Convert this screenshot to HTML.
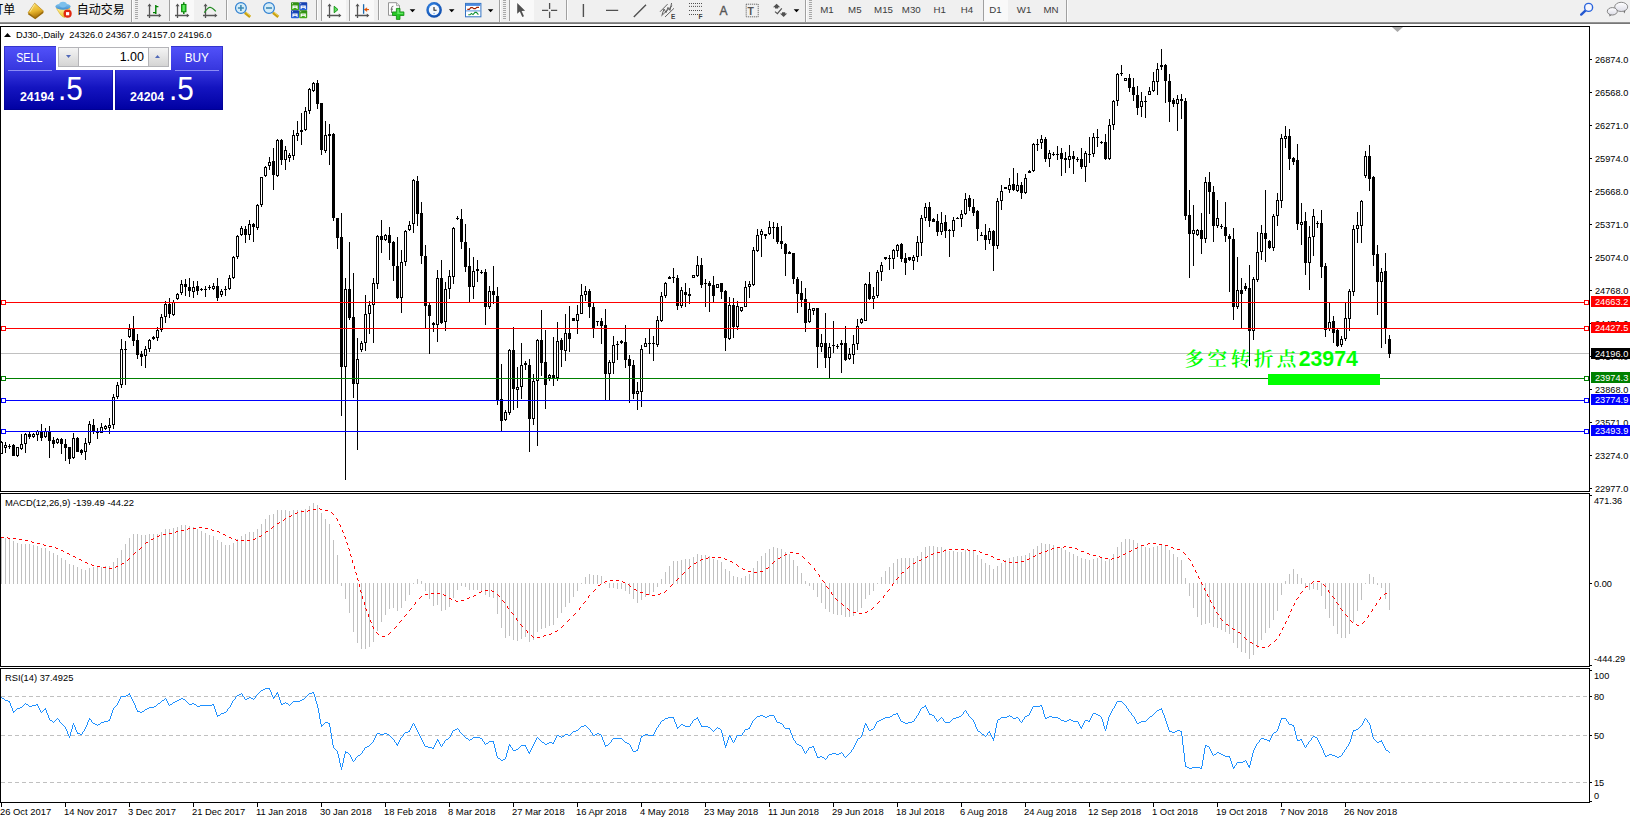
<!DOCTYPE html>
<html><head><meta charset="utf-8"><title>DJ30-,Daily</title>
<style>
html,body{margin:0;padding:0;background:#fff}
body{width:1630px;height:822px;overflow:hidden;position:relative;font-family:"Liberation Sans","Noto Sans CJK SC",sans-serif}
#tb{position:absolute;left:0;top:0;width:1630px;height:22px;background:#f0f0f0}
#tbl{position:absolute;left:0;top:22px;width:1630px;height:2px;background:linear-gradient(#a0a0a0,#696969)}
svg#ch{position:absolute;left:0;top:0}
svg#ch text{font-family:"Liberation Sans","Noto Sans CJK SC",sans-serif}
.tp div,.tp svg{position:absolute}
.bl{background:linear-gradient(#5252fa 0%,#3838e0 35%,#1414c0 65%,#0000a2 100%);box-shadow:inset 0 0 0 1px rgba(0,0,120,.35)}
.spin{left:56px;top:46px;width:115px;height:24px;background:#fff}
.btn{top:47px;width:21px;height:20px;background:linear-gradient(#f4f4f4,#d4d4d4);border:1px solid #b4b4b8;box-sizing:border-box}
.inp{left:79px;top:47px;width:69px;height:20px;border-top:1px solid #b4b4b8;border-bottom:1px solid #b4b4b8;box-sizing:border-box;text-align:right;padding-right:4px;font-size:12.5px;line-height:18px;color:#000}
.ul{top:70px;height:1px;background:#8c8cf6}
.sb{top:50px;height:16px;text-align:center;color:#fff;font-size:12.5px;line-height:16px}
.pr{top:90px;color:#fff;font-weight:bold;font-size:12.3px;line-height:14px}
.big{top:70px;color:#fff;font-size:33px;line-height:38px;transform:scaleX(.9);transform-origin:0 0}
</style></head>
<body>
<div id="tb"></div><div id="tbl"></div>
<svg id="tbs" width="1630" height="24" viewBox="0 0 1630 24" style="position:absolute;left:0;top:0"><defs><linearGradient id="gold" x1="0" y1="0" x2="0.3" y2="1"><stop offset="0" stop-color="#ffe268"/><stop offset="0.6" stop-color="#e8b830"/><stop offset="1" stop-color="#b07808"/></linearGradient><linearGradient id="hat" x1="0" y1="0" x2="0" y2="1"><stop offset="0" stop-color="#8ccaf0"/><stop offset="1" stop-color="#3c8cd0"/></linearGradient><linearGradient id="ylw" x1="0" y1="0" x2="0" y2="1"><stop offset="0" stop-color="#fff0a0"/><stop offset="1" stop-color="#e8c020"/></linearGradient><linearGradient id="cg" x1="0" y1="0" x2="1" y2="0"><stop offset="0" stop-color="#18c018"/><stop offset="0.5" stop-color="#70f070"/><stop offset="1" stop-color="#18c018"/></linearGradient><radialGradient id="clk" cx="0.4" cy="0.35" r="0.7"><stop offset="0" stop-color="#3a90f0"/><stop offset="1" stop-color="#0c48a8"/></radialGradient><linearGradient id="gt" x1="0" y1="0" x2="0" y2="1"><stop offset="0" stop-color="#2c8a10"/><stop offset="1" stop-color="#48b020"/></linearGradient><linearGradient id="bt" x1="0" y1="0" x2="0" y2="1"><stop offset="0" stop-color="#1038a8"/><stop offset="1" stop-color="#2c68e0"/></linearGradient><linearGradient id="bub" x1="0" y1="0" x2="0" y2="1"><stop offset="0" stop-color="#ffffff"/><stop offset="1" stop-color="#dcdce6"/></linearGradient></defs><rect x="170" y="0" width="24" height="21" fill="#f9f9f9"/><rect x="322" y="0" width="24" height="21" fill="#f9f9f9"/><rect x="350" y="0" width="24" height="21" fill="#f9f9f9"/><rect x="510" y="0" width="24" height="21" fill="#f9f9f9"/><rect x="984" y="0" width="24" height="21" fill="#f9f9f9"/><rect x="131" y="0" width="1" height="22" fill="#a0a0a0"/><rect x="132" y="0" width="1" height="22" fill="#fcfcfc"/><rect x="499" y="0" width="1" height="22" fill="#a0a0a0"/><rect x="500" y="0" width="1" height="22" fill="#fcfcfc"/><rect x="805" y="0" width="1" height="22" fill="#a0a0a0"/><rect x="806" y="0" width="1" height="22" fill="#fcfcfc"/><rect x="1066" y="0" width="1" height="22" fill="#a0a0a0"/><rect x="1067" y="0" width="1" height="22" fill="#fcfcfc"/><rect x="226" y="0" width="1" height="20" fill="#a0a0a0"/><rect x="227" y="0" width="1" height="20" fill="#fcfcfc"/><rect x="316" y="0" width="1" height="20" fill="#a0a0a0"/><rect x="317" y="0" width="1" height="20" fill="#fcfcfc"/><rect x="378" y="0" width="1" height="20" fill="#a0a0a0"/><rect x="379" y="0" width="1" height="20" fill="#fcfcfc"/><rect x="566" y="0" width="1" height="20" fill="#a0a0a0"/><rect x="567" y="0" width="1" height="20" fill="#fcfcfc"/><rect x="169" y="0" width="1" height="21" fill="#a0a0a0"/><rect x="321" y="0" width="1" height="21" fill="#a0a0a0"/><rect x="349" y="0" width="1" height="21" fill="#a0a0a0"/><rect x="509" y="0" width="1" height="21" fill="#a0a0a0"/><rect x="983" y="0" width="1" height="21" fill="#a0a0a0"/><rect x="135" y="0" width="3" height="1" fill="#a8a8a8"/><rect x="135" y="2" width="3" height="1" fill="#a8a8a8"/><rect x="135" y="4" width="3" height="1" fill="#a8a8a8"/><rect x="135" y="6" width="3" height="1" fill="#a8a8a8"/><rect x="135" y="8" width="3" height="1" fill="#a8a8a8"/><rect x="135" y="10" width="3" height="1" fill="#a8a8a8"/><rect x="135" y="12" width="3" height="1" fill="#a8a8a8"/><rect x="135" y="14" width="3" height="1" fill="#a8a8a8"/><rect x="135" y="16" width="3" height="1" fill="#a8a8a8"/><rect x="135" y="18" width="3" height="1" fill="#a8a8a8"/><rect x="503" y="0" width="3" height="1" fill="#a8a8a8"/><rect x="503" y="2" width="3" height="1" fill="#a8a8a8"/><rect x="503" y="4" width="3" height="1" fill="#a8a8a8"/><rect x="503" y="6" width="3" height="1" fill="#a8a8a8"/><rect x="503" y="8" width="3" height="1" fill="#a8a8a8"/><rect x="503" y="10" width="3" height="1" fill="#a8a8a8"/><rect x="503" y="12" width="3" height="1" fill="#a8a8a8"/><rect x="503" y="14" width="3" height="1" fill="#a8a8a8"/><rect x="503" y="16" width="3" height="1" fill="#a8a8a8"/><rect x="503" y="18" width="3" height="1" fill="#a8a8a8"/><rect x="809" y="0" width="3" height="1" fill="#a8a8a8"/><rect x="809" y="2" width="3" height="1" fill="#a8a8a8"/><rect x="809" y="4" width="3" height="1" fill="#a8a8a8"/><rect x="809" y="6" width="3" height="1" fill="#a8a8a8"/><rect x="809" y="8" width="3" height="1" fill="#a8a8a8"/><rect x="809" y="10" width="3" height="1" fill="#a8a8a8"/><rect x="809" y="12" width="3" height="1" fill="#a8a8a8"/><rect x="809" y="14" width="3" height="1" fill="#a8a8a8"/><rect x="809" y="16" width="3" height="1" fill="#a8a8a8"/><rect x="809" y="18" width="3" height="1" fill="#a8a8a8"/><text x="-8.7" y="13.5" font-size="12" fill="#000" style="font-family:'Liberation Sans','Noto Sans CJK SC',sans-serif">订单</text><text x="76.7" y="13.5" font-size="12" fill="#000" style="font-family:'Liberation Sans','Noto Sans CJK SC',sans-serif">自动交易</text><path d="M34.7 3.2L43.6 11.2L35.2 17.8L28 12.8z" fill="url(#gold)" stroke="#b88410" stroke-width="0.7"/><path d="M28.4 13.6L35.2 18.4L43.2 12.2" fill="none" stroke="#9a6a08" stroke-width="1.5"/><path d="M34.6 4.2L30 11.8" stroke="#fff4b0" stroke-width="1" opacity=".8" fill="none"/><path d="M56.5 8.5L70 8.5L64.5 17.5Q62 17 60 14z" fill="url(#ylw)" stroke="#d8b020" stroke-width="0.6"/><ellipse cx="63" cy="6.6" rx="7.6" ry="3.2" fill="url(#hat)"/><ellipse cx="63" cy="4.6" rx="3.8" ry="2.8" fill="#7cc0ec"/><circle cx="67.6" cy="13.7" r="4.1" fill="#e02810"/><rect x="66" y="12.1" width="3.2" height="3.2" fill="#fff"/><path d="M149.5 5V18M147 15.5H160" stroke="#555" stroke-width="1.3" fill="none"/><path d="M149.5 3.6l-2 2.6h4zM161.4 15.5l-2.6 -2v4z" fill="#555"/><path d="M155.8 5V14M155.8 6.6H158.4M153 12.6H155.8" stroke="#008000" stroke-width="1.4" fill="none"/><path d="M177.5 5V18M175 15.5H188" stroke="#555" stroke-width="1.3" fill="none"/><path d="M177.5 3.6l-2 2.6h4zM189.4 15.5l-2.6 -2v4z" fill="#555"/><path d="M183.8 2.2V14" stroke="#008000" stroke-width="1.4"/><rect x="181.6" y="4.4" width="4.4" height="7.4" fill="url(#cg)" stroke="#008000" stroke-width="0.9"/><path d="M205.5 5V18M203 15.5H216" stroke="#555" stroke-width="1.3" fill="none"/><path d="M205.5 3.6l-2 2.6h4zM217.4 15.5l-2.6 -2v4z" fill="#555"/><path d="M204.3 12.6Q208 7 210.2 7.3T215.8 11.3" stroke="#208a20" stroke-width="1.2" fill="none"/><path d="M244.9 12.6L250.20000000000002 16.8" stroke="#c8a010" stroke-width="2.8" stroke-linecap="butt"/><path d="M245.5 12L250.5 16" stroke="#f0d860" stroke-width="0.9"/><circle cx="240.9" cy="8" r="5.4" fill="#d4ecf8" stroke="#2e7fd0" stroke-width="1.2"/><path d="M237.9 8H243.9M240.9 5V11" stroke="#3e8ab4" stroke-width="1.6" fill="none"/><path d="M273 12.6L278.3 16.8" stroke="#c8a010" stroke-width="2.8" stroke-linecap="butt"/><path d="M273.6 12L278.6 16" stroke="#f0d860" stroke-width="0.9"/><circle cx="269" cy="8" r="5.4" fill="#d4ecf8" stroke="#2e7fd0" stroke-width="1.2"/><path d="M266 8H272" stroke="#3e8ab4" stroke-width="1.6" fill="none"/><rect x="291" y="2.2" width="8" height="8" rx="0.8" fill="url(#gt)"/><path d="M292.4 5.6h5.2v3.4h-1v-1h-3.2v1h-1z" fill="#fff"/><rect x="292" y="3.2" width="1" height="1" fill="#fff" opacity=".8"/><rect x="293.6" y="6.5" width="2.8" height="0.8" fill="url(#gt)" opacity=".55"/><rect x="299.2" y="2.2" width="8" height="8" rx="0.8" fill="url(#bt)"/><path d="M300.59999999999997 5.6h5.2v3.4h-1v-1h-3.2v1h-1z" fill="#fff"/><rect x="300.2" y="3.2" width="1" height="1" fill="#fff" opacity=".8"/><rect x="301.8" y="6.5" width="2.8" height="0.8" fill="url(#bt)" opacity=".55"/><rect x="291" y="10.2" width="8" height="8" rx="0.8" fill="url(#bt)"/><path d="M292.4 13.6h5.2v3.4h-1v-1h-3.2v1h-1z" fill="#fff"/><rect x="292" y="11.2" width="1" height="1" fill="#fff" opacity=".8"/><rect x="293.6" y="14.5" width="2.8" height="0.8" fill="url(#bt)" opacity=".55"/><rect x="299.2" y="10.2" width="8" height="8" rx="0.8" fill="url(#gt)"/><path d="M300.59999999999997 13.6h5.2v3.4h-1v-1h-3.2v1h-1z" fill="#fff"/><rect x="300.2" y="11.2" width="1" height="1" fill="#fff" opacity=".8"/><rect x="301.8" y="14.5" width="2.8" height="0.8" fill="url(#gt)" opacity=".55"/><path d="M329.5 5V18M327 15.5H340" stroke="#555" stroke-width="1.3" fill="none"/><path d="M329.5 3.6l-2 2.6h4zM341.4 15.5l-2.6 -2v4z" fill="#555"/><path d="M334.2 6.2V12.8L338 9.6z" fill="#60e060" stroke="#109010" stroke-width="0.9"/><path d="M357.5 5V18M355 15.5H368" stroke="#555" stroke-width="1.3" fill="none"/><path d="M357.5 3.6l-2 2.6h4zM369.4 15.5l-2.6 -2v4z" fill="#555"/><path d="M363.6 4.2V13.8" stroke="#1a6ab0" stroke-width="1.3"/><path d="M364.6 9.6H369" stroke="#e05000" stroke-width="1.1"/><path d="M364.3 9.6L367 7.8L366.4 9.6L367 11.4z" fill="#e05000" stroke="#e05000" stroke-width="0.5"/><path d="M388.5 2.7H396.5L399.5 5.7V15.3H388.5z" fill="#fdfdfd" stroke="#8a8a8a" stroke-width="0.9"/><path d="M396.5 2.7V5.7H399.5" fill="#e8e8e8" stroke="#8a8a8a" stroke-width="0.7"/><path d="M393.4 6.2Q391.6 6 391.6 8V13M390.6 9.2H393" stroke="#666" stroke-width="0.9" fill="none"/><path d="M396.4 8.4h3.6v3.5h3.9v3.6h-3.9v3.9h-3.6v-3.9h-3.9v-3.6h3.9z" fill="#28c828" stroke="#0c8a0c" stroke-width="0.8"/><path d="M397.2 9.2h2v3.5h3.9v1.2h-3.9v0h-2z" fill="#7cf07c" opacity=".7"/><path d="M409.7 9.2h5.6l-2.8 3z" fill="#000"/><circle cx="434.1" cy="9.9" r="7.8" fill="url(#clk)"/><circle cx="434.1" cy="9.9" r="5.3" fill="#f4f8fc"/><path d="M434 7V10.3H436.6" stroke="#222" stroke-width="1.1" fill="none"/><circle cx="434.1" cy="13.4" r="0.7" fill="#60a0f0"/><path d="M448.9 9.2h5.6l-2.8 3z" fill="#000"/><rect x="465.5" y="3.4" width="15.4" height="13.4" fill="#fff" stroke="#3474c4" stroke-width="1"/><rect x="466" y="3.9" width="14.4" height="2" fill="#4a8ae0"/><rect x="466" y="10.4" width="14.4" height="1" fill="#5a94dc"/><path d="M467.3 9.4L469.3 9.4L470.8 7.6L472.4 7.6L473.8 8.6L475.4 8.6L476.8 7.4L479 7.4" stroke="#a02000" stroke-width="1.1" fill="none"/><path d="M468.3 14.8L470 14.8L471.4 13.4L473 14.6L475 12.4L476.4 12.4L478.4 14.6" stroke="#109030" stroke-width="1.1" fill="none"/><path d="M487.8 9.2h5.6l-2.8 3z" fill="#000"/><path d="M517.2 2.9V13.8L519.8 11.5L522.3 17L524 16.3L521.6 11.1L525.1 10.8z" fill="#505050"/><path d="M549.6 3.1V9M549.6 11.8V18M542 10.4H548.2M551 10.4H557.2" stroke="#505050" stroke-width="1.3"/><path d="M583.4 4.1V17M606 10.4H618.2M633.8 17L646 4.8" stroke="#505050" stroke-width="1.4"/><path d="M660 11.8L667.6 4.1M661.3 16L672.2 5.6M665 17L674 8.3" stroke="#505050" stroke-width="0.9"/><path d="M662 14.8L664 9L666 12.6L668 7.4L670 10.4L671.6 3" stroke="#505050" stroke-width="0.9" fill="none"/><text x="671" y="18.8" font-size="6.4" font-weight="bold" fill="#404040" style="font-family:'Liberation Sans',sans-serif">E</text><path d="M689 3.5H702" stroke="#505050" stroke-width="1" stroke-dasharray="1 1"/><path d="M689 6.4H702" stroke="#505050" stroke-width="1" stroke-dasharray="1 1"/><path d="M689 10.5H702" stroke="#505050" stroke-width="1" stroke-dasharray="1 1"/><path d="M689 14.5H698" stroke="#505050" stroke-width="1" stroke-dasharray="1 1"/><text x="698.6" y="18.9" font-size="6.6" font-weight="bold" fill="#404040" style="font-family:'Liberation Sans',sans-serif">F</text><text x="719.6" y="15.1" font-size="12" fill="#555" stroke="#555" stroke-width="0.35" style="font-family:'Liberation Sans',sans-serif">A</text><rect x="746.2" y="4.2" width="12" height="12.6" fill="none" stroke="#505050" stroke-width="1" stroke-dasharray="1 1"/><text x="747.6" y="14.7" font-size="10.4" font-weight="bold" fill="#555" style="font-family:'Liberation Sans',sans-serif">T</text><path d="M776.6 3.8L780.2 7.2H778.2V8.6H775V7.2H773z" fill="#505050"/><path d="M783.6 17L787.2 13.6H785.2V12.2H782V13.6H780z" fill="#505050"/><path d="M775 11.6L777.4 13.6L781.8 8.4" stroke="#505050" stroke-width="1.2" fill="none"/><path d="M793.7 9.2h5.6l-2.8 3z" fill="#000"/><text x="827" y="13.3" font-size="9.7" text-anchor="middle" fill="#3c3c3c" style="font-family:'Liberation Sans',sans-serif">M1</text><text x="854.8" y="13.3" font-size="9.7" text-anchor="middle" fill="#3c3c3c" style="font-family:'Liberation Sans',sans-serif">M5</text><text x="883.5" y="13.3" font-size="9.7" text-anchor="middle" fill="#3c3c3c" style="font-family:'Liberation Sans',sans-serif">M15</text><text x="911.3" y="13.3" font-size="9.7" text-anchor="middle" fill="#3c3c3c" style="font-family:'Liberation Sans',sans-serif">M30</text><text x="939.7" y="13.3" font-size="9.7" text-anchor="middle" fill="#3c3c3c" style="font-family:'Liberation Sans',sans-serif">H1</text><text x="967" y="13.3" font-size="9.7" text-anchor="middle" fill="#3c3c3c" style="font-family:'Liberation Sans',sans-serif">H4</text><text x="995.5" y="13.3" font-size="9.7" text-anchor="middle" fill="#3c3c3c" style="font-family:'Liberation Sans',sans-serif">D1</text><text x="1024" y="13.3" font-size="9.7" text-anchor="middle" fill="#3c3c3c" style="font-family:'Liberation Sans',sans-serif">W1</text><text x="1051" y="13.3" font-size="9.7" text-anchor="middle" fill="#3c3c3c" style="font-family:'Liberation Sans',sans-serif">MN</text><path d="M1585.4 10.6L1581.2 14.6" stroke="#2458d0" stroke-width="2.4" stroke-linecap="round"/><circle cx="1588.6" cy="7.4" r="4" fill="#f6f6fc" stroke="#2a64dc" stroke-width="1.4"/><path d="M1623 10.6L1624.4 13.4L1625.6 10.2z" fill="#666"/><ellipse cx="1621.2" cy="6.9" rx="6.5" ry="4.6" fill="url(#bub)" stroke="#8a8a8a" stroke-width="1"/><path d="M1609.2 14L1609.6 16.6L1612 14.6z" fill="#666"/><ellipse cx="1612.3" cy="11.3" rx="5" ry="3.7" fill="url(#bub)" stroke="#828282" stroke-width="1"/></svg>
<svg id="ch" width="1630" height="822" viewBox="0 0 1630 822" shape-rendering="crispEdges">
<path d="M0 26h1590v1h-1590zM0 491h1590v1h-1590zM0 26h1v466h-1zM1589 26h1v466h-1zM0 493h1590v1h-1590zM0 666h1590v1h-1590zM0 493h1v174h-1zM1589 493h1v174h-1zM0 668h1590v1h-1590zM0 802h1590v1h-1590zM0 668h1v135h-1zM1589 668h1v135h-1zM1590 59h2v1h-2zM1590 92h2v1h-2zM1590 125h2v1h-2zM1590 158h2v1h-2zM1590 191h2v1h-2zM1590 224h2v1h-2zM1590 257h2v1h-2zM1590 290h2v1h-2zM1590 323h2v1h-2zM1590 356h2v1h-2zM1590 389h2v1h-2zM1590 422h2v1h-2zM1590 455h2v1h-2zM1590 488h2v1h-2zM1590 495h2v1h-2zM1590 583h2v1h-2zM1590 665h2v1h-2zM1590 670h2v1h-2zM1590 696h2v1h-2zM1590 735h2v1h-2zM1590 782h2v1h-2zM1590 801h2v1h-2zM1 803h1v4h-1zM65 803h1v4h-1zM129 803h1v4h-1zM193 803h1v4h-1zM257 803h1v4h-1zM321 803h1v4h-1zM385 803h1v4h-1zM449 803h1v4h-1zM513 803h1v4h-1zM577 803h1v4h-1zM641 803h1v4h-1zM705 803h1v4h-1zM769 803h1v4h-1zM833 803h1v4h-1zM897 803h1v4h-1zM961 803h1v4h-1zM1025 803h1v4h-1zM1089 803h1v4h-1zM1153 803h1v4h-1zM1217 803h1v4h-1zM1281 803h1v4h-1zM1345 803h1v4h-1z" fill="#000"/>
<rect x="1" y="353" width="1588" height="1" fill="#c0c0c0"/>
<text x="1184.5" y="366" fill="#00ff00" font-size="21.3" font-weight="bold" style="font-family:'Liberation Sans','Noto Serif CJK SC',serif"><tspan style="font-family:'Noto Serif CJK SC',serif;font-weight:600;font-size:19.6px" letter-spacing="3.5">多空转折点</tspan><tspan dx="-1.3">23974</tspan></text>
<path d="M1 441h1v13h-1zM1 442h2v12h-2zM5 442h1v11h-1zM4 445h3v3h-3zM9 444h1v5h-1zM8 446h3v1h-3zM13 444h1v12h-1zM12 445h3v11h-3zM17 447h1v10h-1zM16 447h3v9h-3zM21 434h1v16h-1zM20 444h3v5h-3zM25 433h1v20h-1zM24 434h3v10h-3zM29 432h1v7h-1zM28 434h3v3h-3zM33 433h1v5h-1zM32 434h3v3h-3zM37 430h1v11h-1zM36 431h3v4h-3zM41 424h1v17h-1zM40 432h3v6h-3zM45 428h1v10h-1zM44 431h3v6h-3zM49 426h1v32h-1zM48 431h3v10h-3zM53 437h1v11h-1zM52 440h3v4h-3zM57 438h1v6h-1zM56 439h3v4h-3zM61 438h1v16h-1zM60 439h3v5h-3zM65 439h1v22h-1zM64 444h3v4h-3zM69 447h1v17h-1zM68 447h3v12h-3zM73 433h1v26h-1zM72 438h3v20h-3zM77 437h1v15h-1zM76 438h3v14h-3zM81 449h1v6h-1zM80 450h3v3h-3zM85 438h1v22h-1zM84 443h3v9h-3zM89 421h1v24h-1zM88 424h3v19h-3zM93 419h1v15h-1zM92 425h3v6h-3zM97 428h1v11h-1zM96 431h3v2h-3zM101 423h1v10h-1zM100 427h3v6h-3zM105 425h1v5h-1zM104 426h3v3h-3zM109 418h1v16h-1zM108 425h3v3h-3zM113 394h1v35h-1zM112 397h3v28h-3zM117 382h1v17h-1zM116 385h3v12h-3zM121 339h1v49h-1zM120 349h3v36h-3zM125 341h1v44h-1zM124 349h3v1h-3zM129 324h1v14h-1zM128 329h3v8h-3zM133 316h1v30h-1zM132 329h3v12h-3zM137 334h1v25h-1zM136 340h3v15h-3zM141 351h1v15h-1zM140 354h3v3h-3zM145 346h1v22h-1zM144 349h3v7h-3zM149 339h1v13h-1zM148 340h3v9h-3zM153 336h1v4h-1zM152 337h3v2h-3zM157 327h1v14h-1zM156 330h3v8h-3zM161 314h1v18h-1zM160 317h3v13h-3zM165 301h1v22h-1zM164 304h3v13h-3zM169 298h1v20h-1zM168 304h3v10h-3zM173 300h1v16h-1zM172 302h3v13h-3zM177 293h1v7h-1zM176 294h3v5h-3zM181 280h1v15h-1zM180 284h3v9h-3zM185 279h1v17h-1zM184 284h3v3h-3zM189 278h1v19h-1zM188 287h3v4h-3zM193 281h1v17h-1zM192 287h3v5h-3zM197 281h1v14h-1zM196 286h3v5h-3zM201 288h1v3h-1zM200 289h3v1h-3zM205 286h1v11h-1zM204 289h3v1h-3zM209 285h1v5h-1zM208 287h3v1h-3zM213 283h1v7h-1zM212 286h3v3h-3zM217 278h1v23h-1zM216 286h3v12h-3zM221 289h1v8h-1zM220 291h3v4h-3zM225 286h1v10h-1zM224 289h3v1h-3zM229 275h1v15h-1zM228 278h3v11h-3zM233 256h1v23h-1zM232 257h3v21h-3zM237 235h1v24h-1zM236 236h3v21h-3zM241 226h1v10h-1zM240 228h3v7h-3zM245 226h1v17h-1zM244 229h3v6h-3zM249 220h1v20h-1zM248 224h3v11h-3zM253 223h1v19h-1zM252 224h3v3h-3zM257 204h1v26h-1zM256 205h3v23h-3zM261 177h1v30h-1zM260 177h3v28h-3zM265 166h1v11h-1zM264 167h3v9h-3zM269 157h1v13h-1zM268 162h3v4h-3zM273 148h1v42h-1zM272 161h3v14h-3zM277 139h1v38h-1zM276 140h3v36h-3zM281 139h1v26h-1zM280 140h3v20h-3zM285 146h1v24h-1zM284 150h3v10h-3zM289 153h1v9h-1zM288 155h3v3h-3zM293 130h1v30h-1zM292 135h3v21h-3zM297 121h1v20h-1zM296 133h3v3h-3zM301 113h1v32h-1zM300 130h3v2h-3zM305 107h1v24h-1zM304 111h3v19h-3zM309 88h1v26h-1zM308 89h3v22h-3zM313 82h1v10h-1zM312 83h3v8h-3zM317 80h1v29h-1zM316 83h3v21h-3zM321 103h1v52h-1zM320 103h3v47h-3zM325 121h1v32h-1zM324 135h3v16h-3zM329 124h1v41h-1zM328 134h3v2h-3zM333 133h1v88h-1zM332 134h3v84h-3zM337 218h1v31h-1zM336 218h3v20h-3zM341 213h1v203h-1zM340 237h3v130h-3zM345 278h1v202h-1zM344 289h3v78h-3zM349 242h1v78h-1zM348 289h3v29h-3zM353 273h1v125h-1zM352 317h3v67h-3zM357 338h1v112h-1zM356 359h3v25h-3zM361 341h1v11h-1zM360 343h3v7h-3zM365 295h1v56h-1zM364 314h3v29h-3zM369 301h1v33h-1zM368 305h3v9h-3zM373 278h1v65h-1zM372 283h3v22h-3zM377 235h1v54h-1zM376 236h3v48h-3zM381 220h1v33h-1zM380 236h3v4h-3zM385 234h1v7h-1zM384 235h3v5h-3zM389 227h1v33h-1zM388 235h3v8h-3zM393 241h1v40h-1zM392 242h3v24h-3zM397 237h1v62h-1zM396 266h3v32h-3zM401 250h1v63h-1zM400 262h3v36h-3zM405 230h1v36h-1zM404 231h3v31h-3zM409 221h1v10h-1zM408 225h3v5h-3zM413 179h1v54h-1zM412 180h3v44h-3zM417 176h1v50h-1zM416 181h3v33h-3zM421 202h1v62h-1zM420 213h3v43h-3zM425 245h1v83h-1zM424 256h3v50h-3zM429 303h1v51h-1zM428 305h3v11h-3zM433 322h1v10h-1zM432 323h3v2h-3zM437 270h1v72h-1zM436 278h3v47h-3zM441 260h1v64h-1zM440 278h3v45h-3zM445 282h1v49h-1zM444 289h3v33h-3zM449 270h1v29h-1zM448 276h3v13h-3zM453 227h1v57h-1zM452 228h3v49h-3zM457 216h1v4h-1zM456 218h3v1h-3zM461 209h1v40h-1zM460 219h3v23h-3zM465 224h1v48h-1zM464 242h3v25h-3zM469 248h1v55h-1zM468 266h3v21h-3zM473 257h1v42h-1zM472 271h3v16h-3zM477 260h1v22h-1zM476 269h3v2h-3zM481 270h1v4h-1zM480 272h3v1h-3zM485 269h1v56h-1zM484 272h3v35h-3zM489 286h1v23h-1zM488 291h3v16h-3zM493 266h1v38h-1zM492 291h3v4h-3zM497 287h1v118h-1zM496 296h3v104h-3zM501 364h1v67h-1zM500 399h3v22h-3zM505 410h1v11h-1zM504 412h3v8h-3zM509 349h1v66h-1zM508 350h3v63h-3zM513 327h1v83h-1zM512 350h3v39h-3zM517 367h1v41h-1zM516 387h3v3h-3zM521 343h1v56h-1zM520 365h3v22h-3zM525 361h1v9h-1zM524 363h3v2h-3zM529 359h1v93h-1zM528 365h3v54h-3zM533 374h1v51h-1zM532 381h3v38h-3zM537 339h1v107h-1zM536 340h3v41h-3zM541 310h1v66h-1zM540 340h3v23h-3zM545 330h1v79h-1zM544 362h3v23h-3zM549 374h1v7h-1zM548 375h3v3h-3zM553 337h1v49h-1zM552 375h3v3h-3zM557 322h1v59h-1zM556 341h3v37h-3zM561 338h1v29h-1zM560 340h3v10h-3zM565 314h1v47h-1zM564 333h3v18h-3zM569 306h1v46h-1zM568 333h3v6h-3zM573 318h1v3h-1zM572 318h3v3h-3zM577 305h1v29h-1zM576 314h3v7h-3zM581 284h1v30h-1zM580 295h3v19h-3zM585 286h1v15h-1zM584 291h3v4h-3zM589 289h1v29h-1zM588 291h3v16h-3zM593 303h1v35h-1zM592 307h3v21h-3zM597 321h1v5h-1zM596 321h3v1h-3zM601 318h1v26h-1zM600 321h3v5h-3zM605 309h1v91h-1zM604 325h3v49h-3zM609 360h1v40h-1zM608 362h3v12h-3zM613 336h1v38h-1zM612 345h3v18h-3zM617 341h1v19h-1zM616 344h3v1h-3zM621 340h1v4h-1zM620 341h3v2h-3zM625 325h1v43h-1zM624 342h3v18h-3zM629 355h1v48h-1zM628 359h3v7h-3zM633 360h1v39h-1zM632 365h3v29h-3zM637 382h1v28h-1zM636 391h3v3h-3zM641 345h1v62h-1zM640 349h3v43h-3zM645 338h1v9h-1zM644 343h3v4h-3zM649 329h1v25h-1zM648 343h3v1h-3zM653 336h1v25h-1zM652 343h3v1h-3zM657 316h1v31h-1zM656 320h3v25h-3zM661 292h1v30h-1zM660 296h3v25h-3zM665 282h1v16h-1zM664 283h3v13h-3zM669 276h1v3h-1zM668 277h3v2h-3zM673 268h1v15h-1zM672 277h3v1h-3zM677 275h1v35h-1zM676 278h3v28h-3zM681 287h1v21h-1zM680 290h3v16h-3zM685 283h1v24h-1zM684 292h3v3h-3zM689 288h1v16h-1zM688 294h3v2h-3zM693 275h1v3h-1zM692 275h3v3h-3zM697 256h1v21h-1zM696 265h3v11h-3zM701 258h1v30h-1zM700 265h3v20h-3zM705 279h1v28h-1zM704 283h3v1h-3zM709 281h1v31h-1zM708 283h3v3h-3zM713 276h1v26h-1zM712 285h3v11h-3zM717 284h1v4h-1zM716 284h3v4h-3zM721 283h1v16h-1zM720 283h3v9h-3zM725 290h1v61h-1zM724 291h3v47h-3zM729 297h1v43h-1zM728 305h3v34h-3zM733 298h1v40h-1zM732 305h3v22h-3zM737 301h1v29h-1zM736 306h3v21h-3zM741 307h1v5h-1zM740 307h3v4h-3zM745 281h1v26h-1zM744 287h3v20h-3zM749 281h1v17h-1zM748 284h3v3h-3zM753 247h1v39h-1zM752 250h3v35h-3zM757 229h1v23h-1zM756 235h3v16h-3zM761 229h1v28h-1zM760 231h3v4h-3zM765 234h1v5h-1zM764 234h3v2h-3zM769 221h1v14h-1zM768 227h3v7h-3zM773 222h1v17h-1zM772 227h3v1h-3zM777 223h1v21h-1zM776 227h3v15h-3zM781 226h1v23h-1zM780 241h3v3h-3zM785 243h1v33h-1zM784 244h3v10h-3zM789 251h1v3h-1zM788 252h3v2h-3zM793 253h1v31h-1zM792 253h3v26h-3zM797 277h1v36h-1zM796 279h3v15h-3zM801 281h1v26h-1zM800 293h3v7h-3zM805 288h1v44h-1zM804 299h3v24h-3zM809 303h1v20h-1zM808 309h3v13h-3zM813 308h1v7h-1zM812 308h3v3h-3zM817 308h1v60h-1zM816 308h3v39h-3zM821 334h1v18h-1zM820 343h3v4h-3zM825 313h1v55h-1zM824 343h3v15h-3zM829 343h1v35h-1zM828 347h3v11h-3zM833 321h1v32h-1zM832 345h3v1h-3zM837 344h1v5h-1zM836 346h3v1h-3zM841 340h1v33h-1zM840 343h3v2h-3zM845 326h1v35h-1zM844 343h3v17h-3zM849 348h1v12h-1zM848 354h3v5h-3zM853 335h1v29h-1zM852 344h3v11h-3zM857 319h1v31h-1zM856 326h3v18h-3zM861 318h1v6h-1zM860 319h3v4h-3zM865 283h1v38h-1zM864 284h3v37h-3zM869 272h1v28h-1zM868 284h3v15h-3zM873 287h1v22h-1zM872 296h3v3h-3zM877 270h1v28h-1zM876 272h3v24h-3zM881 262h1v19h-1zM880 265h3v7h-3zM885 257h1v3h-1zM884 257h3v2h-3zM889 255h1v15h-1zM888 258h3v1h-3zM893 249h1v20h-1zM892 250h3v9h-3zM897 244h1v13h-1zM896 245h3v6h-3zM901 243h1v19h-1zM900 244h3v15h-3zM905 253h1v22h-1zM904 258h3v5h-3zM909 257h1v4h-1zM908 257h3v3h-3zM913 255h1v15h-1zM912 257h3v4h-3zM917 236h1v26h-1zM916 242h3v15h-3zM921 215h1v41h-1zM920 218h3v25h-3zM925 203h1v18h-1zM924 207h3v11h-3zM929 202h1v25h-1zM928 207h3v14h-3zM933 218h1v4h-1zM932 219h3v3h-3zM937 214h1v22h-1zM936 221h3v11h-3zM941 212h1v23h-1zM940 223h3v9h-3zM945 215h1v23h-1zM944 222h3v9h-3zM949 229h1v28h-1zM948 230h3v1h-3zM953 217h1v20h-1zM952 220h3v11h-3zM957 217h1v2h-1zM956 218h3v1h-3zM961 210h1v17h-1zM960 214h3v5h-3zM965 193h1v22h-1zM964 199h3v15h-3zM969 195h1v16h-1zM968 198h3v9h-3zM973 199h1v17h-1zM972 207h3v6h-3zM977 210h1v31h-1zM976 211h3v18h-3zM981 232h1v3h-1zM980 235h3v1h-3zM985 224h1v26h-1zM984 235h3v5h-3zM989 228h1v16h-1zM988 231h3v9h-3zM993 230h1v41h-1zM992 231h3v15h-3zM997 198h1v51h-1zM996 201h3v45h-3zM1001 185h1v25h-1zM1000 191h3v10h-3zM1005 187h1v2h-1zM1004 187h3v2h-3zM1009 178h1v15h-1zM1008 185h3v5h-3zM1013 168h1v23h-1zM1012 184h3v6h-3zM1017 173h1v19h-1zM1016 185h3v6h-3zM1021 182h1v17h-1zM1020 185h3v8h-3zM1025 174h1v20h-1zM1024 178h3v15h-3zM1029 170h1v3h-1zM1028 171h3v2h-3zM1033 143h1v29h-1zM1032 144h3v27h-3zM1037 139h1v12h-1zM1036 144h3v1h-3zM1041 135h1v14h-1zM1040 139h3v4h-3zM1045 137h1v25h-1zM1044 139h3v20h-3zM1049 150h1v17h-1zM1048 153h3v6h-3zM1053 152h1v4h-1zM1052 154h3v1h-3zM1057 146h1v14h-1zM1056 154h3v1h-3zM1061 148h1v28h-1zM1060 153h3v6h-3zM1065 152h1v21h-1zM1064 158h3v2h-3zM1069 145h1v23h-1zM1068 156h3v4h-3zM1073 151h1v23h-1zM1072 156h3v3h-3zM1077 157h1v5h-1zM1076 159h3v1h-3zM1081 148h1v21h-1zM1080 159h3v8h-3zM1085 151h1v31h-1zM1084 153h3v14h-3zM1089 137h1v26h-1zM1088 154h3v1h-3zM1093 133h1v24h-1zM1092 137h3v17h-3zM1097 129h1v18h-1zM1096 137h3v1h-3zM1101 141h1v3h-1zM1100 142h3v1h-3zM1105 134h1v26h-1zM1104 142h3v17h-3zM1109 119h1v41h-1zM1108 125h3v34h-3zM1113 100h1v30h-1zM1112 101h3v24h-3zM1117 73h1v33h-1zM1116 74h3v27h-3zM1121 65h1v11h-1zM1120 73h3v1h-3zM1125 78h1v3h-1zM1124 78h3v3h-3zM1129 74h1v18h-1zM1128 78h3v10h-3zM1133 78h1v23h-1zM1132 87h3v8h-3zM1137 86h1v29h-1zM1136 95h3v13h-3zM1141 92h1v25h-1zM1140 101h3v6h-3zM1145 96h1v22h-1zM1144 101h3v1h-3zM1149 87h1v8h-1zM1148 91h3v4h-3zM1153 72h1v20h-1zM1152 81h3v10h-3zM1157 63h1v32h-1zM1156 69h3v13h-3zM1161 49h1v21h-1zM1160 65h3v2h-3zM1165 64h1v39h-1zM1164 65h3v16h-3zM1169 74h1v48h-1zM1168 81h3v21h-3zM1173 98h1v9h-1zM1172 100h3v4h-3zM1177 95h1v36h-1zM1176 99h3v5h-3zM1181 94h1v25h-1zM1180 99h3v2h-3zM1185 98h1v122h-1zM1184 101h3v115h-3zM1189 190h1v88h-1zM1188 215h3v19h-3zM1193 205h1v61h-1zM1192 230h3v4h-3zM1197 229h1v7h-1zM1196 230h3v5h-3zM1201 213h1v41h-1zM1200 230h3v9h-3zM1205 177h1v66h-1zM1204 182h3v57h-3zM1209 172h1v42h-1zM1208 182h3v10h-3zM1213 186h1v56h-1zM1212 192h3v34h-3zM1217 200h1v28h-1zM1216 218h3v8h-3zM1221 224h1v5h-1zM1220 226h3v1h-3zM1225 202h1v40h-1zM1224 227h3v9h-3zM1229 234h1v58h-1zM1228 236h3v3h-3zM1233 228h1v92h-1zM1232 239h3v68h-3zM1237 257h1v52h-1zM1236 290h3v17h-3zM1241 278h1v51h-1zM1240 290h3v4h-3zM1245 283h1v8h-1zM1244 286h3v3h-3zM1249 265h1v101h-1zM1248 288h3v43h-3zM1253 277h1v63h-1zM1252 279h3v52h-3zM1257 232h1v50h-1zM1256 252h3v28h-3zM1261 225h1v35h-1zM1260 233h3v19h-3zM1265 190h1v72h-1zM1264 233h3v6h-3zM1269 240h1v9h-1zM1268 241h3v7h-3zM1273 214h1v37h-1zM1272 216h3v32h-3zM1277 193h1v33h-1zM1276 200h3v16h-3zM1281 134h1v74h-1zM1280 138h3v63h-3zM1285 126h1v22h-1zM1284 136h3v3h-3zM1289 129h1v41h-1zM1288 136h3v23h-3zM1293 157h1v8h-1zM1292 158h3v4h-3zM1297 144h1v86h-1zM1296 160h3v64h-3zM1301 203h1v42h-1zM1300 222h3v3h-3zM1305 212h1v63h-1zM1304 221h3v42h-3zM1309 226h1v64h-1zM1308 237h3v26h-3zM1313 209h1v47h-1zM1312 216h3v21h-3zM1317 221h1v7h-1zM1316 223h3v1h-3zM1321 210h1v68h-1zM1320 223h3v44h-3zM1325 263h1v74h-1zM1324 266h3v64h-3zM1329 302h1v29h-1zM1328 322h3v7h-3zM1333 316h1v27h-1zM1332 321h3v12h-3zM1337 328h1v19h-1zM1336 330h3v16h-3zM1341 336h1v11h-1zM1340 339h3v6h-3zM1345 302h1v39h-1zM1344 318h3v21h-3zM1349 289h1v42h-1zM1348 291h3v28h-3zM1353 225h1v71h-1zM1352 229h3v63h-3zM1357 212h1v31h-1zM1356 225h3v4h-3zM1361 200h1v43h-1zM1360 201h3v25h-3zM1365 151h1v27h-1zM1364 156h3v20h-3zM1369 145h1v46h-1zM1368 156h3v23h-3zM1373 176h1v90h-1zM1372 177h3v78h-3zM1377 245h1v70h-1zM1376 254h3v28h-3zM1381 268h1v80h-1zM1380 272h3v10h-3zM1385 253h1v91h-1zM1384 271h3v58h-3zM1389 335h1v23h-1zM1388 339h3v15h-3z" fill="#000"/><path d="M1 443h1v10h-1zM5 446h1v1h-1zM17 448h1v7h-1zM21 445h1v3h-1zM25 435h1v8h-1zM33 435h1v1h-1zM37 432h1v2h-1zM45 432h1v4h-1zM57 440h1v2h-1zM73 439h1v18h-1zM85 444h1v7h-1zM89 425h1v17h-1zM101 428h1v4h-1zM105 427h1v1h-1zM109 426h1v1h-1zM113 398h1v26h-1zM117 386h1v10h-1zM121 350h1v34h-1zM129 330h1v6h-1zM145 350h1v5h-1zM149 341h1v7h-1zM157 331h1v6h-1zM161 318h1v11h-1zM165 305h1v11h-1zM173 303h1v11h-1zM177 295h1v3h-1zM181 285h1v7h-1zM193 288h1v3h-1zM213 287h1v1h-1zM221 292h1v2h-1zM229 279h1v9h-1zM233 258h1v19h-1zM237 237h1v19h-1zM241 229h1v5h-1zM249 225h1v9h-1zM257 206h1v21h-1zM261 178h1v26h-1zM265 168h1v7h-1zM269 163h1v2h-1zM277 141h1v34h-1zM285 151h1v8h-1zM289 156h1v1h-1zM293 136h1v19h-1zM297 134h1v1h-1zM305 112h1v17h-1zM309 90h1v20h-1zM313 84h1v6h-1zM325 136h1v14h-1zM345 290h1v76h-1zM357 360h1v23h-1zM361 344h1v5h-1zM365 315h1v27h-1zM369 306h1v7h-1zM373 284h1v20h-1zM377 237h1v46h-1zM385 236h1v3h-1zM401 263h1v34h-1zM405 232h1v29h-1zM409 226h1v3h-1zM413 181h1v42h-1zM437 279h1v45h-1zM445 290h1v31h-1zM449 277h1v11h-1zM453 229h1v47h-1zM473 272h1v14h-1zM489 292h1v14h-1zM505 413h1v6h-1zM509 351h1v61h-1zM517 388h1v1h-1zM521 366h1v20h-1zM533 382h1v36h-1zM537 341h1v39h-1zM549 376h1v1h-1zM557 342h1v35h-1zM565 334h1v16h-1zM577 315h1v5h-1zM581 296h1v17h-1zM585 292h1v2h-1zM609 363h1v10h-1zM613 346h1v16h-1zM637 392h1v1h-1zM641 350h1v41h-1zM645 344h1v2h-1zM657 321h1v23h-1zM661 297h1v23h-1zM665 284h1v11h-1zM681 291h1v14h-1zM693 276h1v1h-1zM697 266h1v9h-1zM717 285h1v2h-1zM729 306h1v32h-1zM737 307h1v19h-1zM741 308h1v2h-1zM745 288h1v18h-1zM749 285h1v1h-1zM753 251h1v33h-1zM757 236h1v14h-1zM761 232h1v2h-1zM769 228h1v5h-1zM809 310h1v11h-1zM813 309h1v1h-1zM821 344h1v2h-1zM829 348h1v9h-1zM849 355h1v3h-1zM853 345h1v9h-1zM857 327h1v16h-1zM861 320h1v2h-1zM865 285h1v35h-1zM873 297h1v1h-1zM877 273h1v22h-1zM881 266h1v5h-1zM893 251h1v7h-1zM897 246h1v4h-1zM913 258h1v2h-1zM917 243h1v13h-1zM921 219h1v23h-1zM925 208h1v9h-1zM941 224h1v7h-1zM953 221h1v9h-1zM961 215h1v3h-1zM965 200h1v13h-1zM989 232h1v7h-1zM997 202h1v43h-1zM1001 192h1v8h-1zM1009 186h1v3h-1zM1017 186h1v4h-1zM1025 179h1v13h-1zM1033 145h1v25h-1zM1041 140h1v2h-1zM1049 154h1v4h-1zM1069 157h1v2h-1zM1085 154h1v12h-1zM1093 138h1v15h-1zM1109 126h1v32h-1zM1113 102h1v22h-1zM1117 75h1v25h-1zM1125 79h1v1h-1zM1141 102h1v4h-1zM1149 92h1v2h-1zM1153 82h1v8h-1zM1157 70h1v11h-1zM1177 100h1v3h-1zM1193 231h1v2h-1zM1197 231h1v3h-1zM1205 183h1v55h-1zM1217 219h1v6h-1zM1237 291h1v15h-1zM1253 280h1v50h-1zM1257 253h1v26h-1zM1261 234h1v17h-1zM1273 217h1v30h-1zM1277 201h1v14h-1zM1281 139h1v61h-1zM1285 137h1v1h-1zM1301 223h1v1h-1zM1309 238h1v24h-1zM1313 217h1v19h-1zM1329 323h1v5h-1zM1341 340h1v4h-1zM1345 319h1v19h-1zM1349 292h1v26h-1zM1353 230h1v61h-1zM1357 226h1v2h-1zM1361 202h1v23h-1zM1365 157h1v18h-1zM1381 273h1v8h-1z" fill="#fff"/>
<text transform="translate(1595,62.6) scale(0.939,1)" fill="#000" font-size="9.8" text-anchor="start">26874.0</text><text transform="translate(1595,95.6) scale(0.939,1)" fill="#000" font-size="9.8" text-anchor="start">26568.0</text><text transform="translate(1595,128.6) scale(0.939,1)" fill="#000" font-size="9.8" text-anchor="start">26271.0</text><text transform="translate(1595,161.6) scale(0.939,1)" fill="#000" font-size="9.8" text-anchor="start">25974.0</text><text transform="translate(1595,194.6) scale(0.939,1)" fill="#000" font-size="9.8" text-anchor="start">25668.0</text><text transform="translate(1595,227.6) scale(0.939,1)" fill="#000" font-size="9.8" text-anchor="start">25371.0</text><text transform="translate(1595,260.6) scale(0.939,1)" fill="#000" font-size="9.8" text-anchor="start">25074.0</text><text transform="translate(1595,293.6) scale(0.939,1)" fill="#000" font-size="9.8" text-anchor="start">24768.0</text><text transform="translate(1595,326.6) scale(0.939,1)" fill="#000" font-size="9.8" text-anchor="start">24471.0</text><text transform="translate(1595,359.6) scale(0.939,1)" fill="#000" font-size="9.8" text-anchor="start">24174.0</text><text transform="translate(1595,392.6) scale(0.939,1)" fill="#000" font-size="9.8" text-anchor="start">23868.0</text><text transform="translate(1595,425.6) scale(0.939,1)" fill="#000" font-size="9.8" text-anchor="start">23571.0</text><text transform="translate(1595,458.6) scale(0.939,1)" fill="#000" font-size="9.8" text-anchor="start">23274.0</text><text transform="translate(1595,491.6) scale(0.939,1)" fill="#000" font-size="9.8" text-anchor="start">22977.0</text><text transform="translate(1594,504) scale(0.939,1)" fill="#000" font-size="9.8" text-anchor="start">471.36</text><text transform="translate(1594,587) scale(0.939,1)" fill="#000" font-size="9.8" text-anchor="start">0.00</text><text transform="translate(1594,662) scale(0.939,1)" fill="#000" font-size="9.8" text-anchor="start">-444.29</text><text transform="translate(1594,679) scale(0.939,1)" fill="#000" font-size="9.8" text-anchor="start">100</text><text transform="translate(1594,700) scale(0.939,1)" fill="#000" font-size="9.8" text-anchor="start">80</text><text transform="translate(1594,739) scale(0.939,1)" fill="#000" font-size="9.8" text-anchor="start">50</text><text transform="translate(1594,786) scale(0.939,1)" fill="#000" font-size="9.8" text-anchor="start">15</text><text transform="translate(1594,799) scale(0.939,1)" fill="#000" font-size="9.8" text-anchor="start">0</text><text transform="translate(0,815) scale(0.959,1)" fill="#000" font-size="9.8" text-anchor="start">26 Oct 2017</text><text transform="translate(64,815) scale(0.959,1)" fill="#000" font-size="9.8" text-anchor="start">14 Nov 2017</text><text transform="translate(128,815) scale(0.959,1)" fill="#000" font-size="9.8" text-anchor="start">3 Dec 2017</text><text transform="translate(192,815) scale(0.959,1)" fill="#000" font-size="9.8" text-anchor="start">21 Dec 2017</text><text transform="translate(256,815) scale(0.959,1)" fill="#000" font-size="9.8" text-anchor="start">11 Jan 2018</text><text transform="translate(320,815) scale(0.959,1)" fill="#000" font-size="9.8" text-anchor="start">30 Jan 2018</text><text transform="translate(384,815) scale(0.959,1)" fill="#000" font-size="9.8" text-anchor="start">18 Feb 2018</text><text transform="translate(448,815) scale(0.959,1)" fill="#000" font-size="9.8" text-anchor="start">8 Mar 2018</text><text transform="translate(512,815) scale(0.959,1)" fill="#000" font-size="9.8" text-anchor="start">27 Mar 2018</text><text transform="translate(576,815) scale(0.959,1)" fill="#000" font-size="9.8" text-anchor="start">16 Apr 2018</text><text transform="translate(640,815) scale(0.959,1)" fill="#000" font-size="9.8" text-anchor="start">4 May 2018</text><text transform="translate(704,815) scale(0.959,1)" fill="#000" font-size="9.8" text-anchor="start">23 May 2018</text><text transform="translate(768,815) scale(0.959,1)" fill="#000" font-size="9.8" text-anchor="start">11 Jun 2018</text><text transform="translate(832,815) scale(0.959,1)" fill="#000" font-size="9.8" text-anchor="start">29 Jun 2018</text><text transform="translate(896,815) scale(0.959,1)" fill="#000" font-size="9.8" text-anchor="start">18 Jul 2018</text><text transform="translate(960,815) scale(0.959,1)" fill="#000" font-size="9.8" text-anchor="start">6 Aug 2018</text><text transform="translate(1024,815) scale(0.959,1)" fill="#000" font-size="9.8" text-anchor="start">24 Aug 2018</text><text transform="translate(1088,815) scale(0.959,1)" fill="#000" font-size="9.8" text-anchor="start">12 Sep 2018</text><text transform="translate(1152,815) scale(0.959,1)" fill="#000" font-size="9.8" text-anchor="start">1 Oct 2018</text><text transform="translate(1216,815) scale(0.959,1)" fill="#000" font-size="9.8" text-anchor="start">19 Oct 2018</text><text transform="translate(1280,815) scale(0.959,1)" fill="#000" font-size="9.8" text-anchor="start">7 Nov 2018</text><text transform="translate(1344,815) scale(0.959,1)" fill="#000" font-size="9.8" text-anchor="start">26 Nov 2018</text><text transform="translate(16,38) scale(0.952,1)" fill="#000" font-size="9.8" text-anchor="start">DJ30-,Daily&#160;&#160;24326.0 24367.0 24157.0 24196.0</text><path d="M4 37h7l-3.5-4z" fill="#000" shape-rendering="auto"/><text transform="translate(5,505.5) scale(0.961,1)" fill="#000" font-size="9.8" text-anchor="start">MACD(12,26,9) -139.49 -44.22</text><text transform="translate(5,680.5) scale(0.952,1)" fill="#000" font-size="9.8" text-anchor="start">RSI(14) 37.4925</text>
<rect x="1" y="302" width="1588" height="1" fill="#ff0000"/><rect x="1.5" y="300.5" width="4" height="4" fill="#fff" stroke="#ff0000"  shape-rendering="crispEdges"/><rect x="1584.5" y="300.5" width="4" height="4" fill="#fff" stroke="#ff0000" shape-rendering="crispEdges"/><rect x="1591" y="296" width="39" height="11" fill="#ff0000"/><text transform="translate(1595,304.5) scale(0.939,1)" fill="#fff" font-size="9.8">24663.2</text><rect x="1" y="328" width="1588" height="1" fill="#ff0000"/><rect x="1.5" y="326.5" width="4" height="4" fill="#fff" stroke="#ff0000"  shape-rendering="crispEdges"/><rect x="1584.5" y="326.5" width="4" height="4" fill="#fff" stroke="#ff0000" shape-rendering="crispEdges"/><rect x="1591" y="322" width="39" height="11" fill="#ff0000"/><text transform="translate(1595,330.5) scale(0.939,1)" fill="#fff" font-size="9.8">24427.5</text><rect x="1" y="378" width="1588" height="1" fill="#008000"/><rect x="1.5" y="376.5" width="4" height="4" fill="#fff" stroke="#008000"  shape-rendering="crispEdges"/><rect x="1584.5" y="376.5" width="4" height="4" fill="#fff" stroke="#008000" shape-rendering="crispEdges"/><rect x="1591" y="372" width="39" height="11" fill="#008000"/><text transform="translate(1595,380.5) scale(0.939,1)" fill="#fff" font-size="9.8">23974.3</text><rect x="1" y="400" width="1588" height="1" fill="#0000ff"/><rect x="1.5" y="398.5" width="4" height="4" fill="#fff" stroke="#0000ff"  shape-rendering="crispEdges"/><rect x="1584.5" y="398.5" width="4" height="4" fill="#fff" stroke="#0000ff" shape-rendering="crispEdges"/><rect x="1591" y="394" width="39" height="11" fill="#0000ff"/><text transform="translate(1595,402.5) scale(0.939,1)" fill="#fff" font-size="9.8">23774.9</text><rect x="1" y="431" width="1588" height="1" fill="#0000ff"/><rect x="1.5" y="429.5" width="4" height="4" fill="#fff" stroke="#0000ff"  shape-rendering="crispEdges"/><rect x="1584.5" y="429.5" width="4" height="4" fill="#fff" stroke="#0000ff" shape-rendering="crispEdges"/><rect x="1591" y="425" width="39" height="11" fill="#0000ff"/><text transform="translate(1595,433.5) scale(0.939,1)" fill="#fff" font-size="9.8">23493.9</text><rect x="1591" y="348" width="39" height="11" fill="#000"/><text transform="translate(1595,356.5) scale(0.939,1)" fill="#fff" font-size="9.8">24196.0</text>
<rect x="1268" y="374" width="112" height="11" fill="#00ff00"/>
<path d="M1392 27h11l-5.5 5z" fill="#a8a8a8" shape-rendering="auto"/>
<path d="M1 537h1v47h-1zM5 538h1v46h-1zM9 539h1v45h-1zM13 541h1v43h-1zM17 543h1v41h-1zM21 544h1v40h-1zM25 544h1v40h-1zM29 544h1v40h-1zM33 545h1v39h-1zM37 546h1v38h-1zM41 548h1v36h-1zM45 548h1v36h-1zM49 551h1v33h-1zM53 553h1v31h-1zM57 555h1v29h-1zM61 558h1v26h-1zM65 560h1v24h-1zM69 564h1v20h-1zM73 565h1v19h-1zM77 567h1v17h-1zM81 569h1v15h-1zM85 570h1v14h-1zM89 568h1v16h-1zM93 567h1v17h-1zM97 567h1v17h-1zM101 567h1v17h-1zM105 566h1v18h-1zM109 566h1v18h-1zM113 562h1v22h-1zM117 558h1v26h-1zM121 550h1v34h-1zM125 544h1v40h-1zM129 538h1v46h-1zM133 534h1v50h-1zM137 534h1v50h-1zM141 535h1v49h-1zM145 535h1v49h-1zM149 534h1v50h-1zM153 534h1v50h-1zM157 534h1v50h-1zM161 532h1v52h-1zM165 529h1v55h-1zM169 529h1v55h-1zM173 528h1v56h-1zM177 527h1v57h-1zM181 525h1v59h-1zM185 525h1v59h-1zM189 526h1v58h-1zM193 527h1v57h-1zM197 529h1v55h-1zM201 531h1v53h-1zM205 533h1v51h-1zM209 535h1v49h-1zM213 536h1v48h-1zM217 540h1v44h-1zM221 542h1v42h-1zM225 545h1v39h-1zM229 545h1v39h-1zM233 543h1v41h-1zM237 539h1v45h-1zM241 536h1v48h-1zM245 534h1v50h-1zM249 532h1v52h-1zM253 532h1v52h-1zM257 529h1v55h-1zM261 524h1v60h-1zM265 519h1v65h-1zM269 515h1v69h-1zM273 514h1v70h-1zM277 510h1v74h-1zM281 510h1v74h-1zM285 510h1v74h-1zM289 511h1v73h-1zM293 510h1v74h-1zM297 510h1v74h-1zM301 510h1v74h-1zM305 509h1v75h-1zM309 506h1v78h-1zM313 503h1v81h-1zM317 505h1v79h-1zM321 513h1v71h-1zM325 519h1v65h-1zM329 524h1v60h-1zM333 540h1v44h-1zM337 555h1v29h-1zM341 583h1v3h-1zM345 583h1v16h-1zM349 583h1v30h-1zM353 583h1v49h-1zM357 583h1v60h-1zM361 583h1v66h-1zM365 583h1v66h-1zM369 583h1v64h-1zM373 583h1v59h-1zM377 583h1v48h-1zM381 583h1v39h-1zM385 583h1v32h-1zM389 583h1v26h-1zM393 583h1v25h-1zM397 583h1v28h-1zM401 583h1v25h-1zM405 583h1v18h-1zM409 583h1v12h-1zM413 583h1v1h-1zM417 579h1v5h-1zM421 581h1v3h-1zM425 583h1v8h-1zM429 583h1v16h-1zM433 583h1v23h-1zM437 583h1v22h-1zM441 583h1v28h-1zM445 583h1v27h-1zM449 583h1v24h-1zM453 583h1v15h-1zM457 583h1v7h-1zM461 583h1v3h-1zM465 583h1v4h-1zM469 583h1v7h-1zM473 583h1v7h-1zM477 583h1v7h-1zM481 583h1v8h-1zM485 583h1v12h-1zM489 583h1v14h-1zM493 583h1v15h-1zM497 583h1v31h-1zM501 583h1v45h-1zM505 583h1v55h-1zM509 583h1v53h-1zM513 583h1v57h-1zM517 583h1v58h-1zM521 583h1v56h-1zM525 583h1v54h-1zM529 583h1v59h-1zM533 583h1v57h-1zM537 583h1v49h-1zM541 583h1v46h-1zM545 583h1v45h-1zM549 583h1v43h-1zM553 583h1v42h-1zM557 583h1v35h-1zM561 583h1v30h-1zM565 583h1v24h-1zM569 583h1v20h-1zM573 583h1v14h-1zM577 583h1v8h-1zM581 583h1v1h-1zM585 577h1v7h-1zM589 574h1v10h-1zM593 575h1v9h-1zM597 575h1v9h-1zM601 576h1v8h-1zM605 583h1v1h-1zM609 583h1v5h-1zM613 583h1v5h-1zM617 583h1v6h-1zM621 583h1v6h-1zM625 583h1v8h-1zM629 583h1v11h-1zM633 583h1v16h-1zM637 583h1v20h-1zM641 583h1v17h-1zM645 583h1v14h-1zM649 583h1v12h-1zM653 583h1v9h-1zM657 583h1v4h-1zM661 579h1v5h-1zM665 572h1v12h-1zM669 566h1v18h-1zM673 561h1v23h-1zM677 561h1v23h-1zM681 560h1v24h-1zM685 559h1v25h-1zM689 559h1v25h-1zM693 557h1v27h-1zM697 554h1v30h-1zM701 555h1v29h-1zM705 555h1v29h-1zM709 556h1v28h-1zM713 559h1v25h-1zM717 560h1v24h-1zM721 562h1v22h-1zM725 569h1v15h-1zM729 571h1v13h-1zM733 576h1v8h-1zM737 577h1v7h-1zM741 578h1v6h-1zM745 576h1v8h-1zM749 574h1v10h-1zM753 568h1v16h-1zM757 561h1v23h-1zM761 556h1v28h-1zM765 553h1v31h-1zM769 549h1v35h-1zM773 547h1v37h-1zM777 548h1v36h-1zM781 549h1v35h-1zM785 552h1v32h-1zM789 554h1v30h-1zM793 560h1v24h-1zM797 566h1v18h-1zM801 573h1v11h-1zM805 581h1v3h-1zM809 583h1v3h-1zM813 583h1v7h-1zM817 583h1v14h-1zM821 583h1v20h-1zM825 583h1v26h-1zM829 583h1v29h-1zM833 583h1v31h-1zM837 583h1v32h-1zM841 583h1v32h-1zM845 583h1v34h-1zM849 583h1v34h-1zM853 583h1v33h-1zM857 583h1v29h-1zM861 583h1v25h-1zM865 583h1v16h-1zM869 583h1v12h-1zM873 583h1v8h-1zM877 583h1v1h-1zM881 577h1v7h-1zM885 571h1v13h-1zM889 567h1v17h-1zM893 563h1v21h-1zM897 559h1v25h-1zM901 558h1v26h-1zM905 558h1v26h-1zM909 558h1v26h-1zM913 558h1v26h-1zM917 556h1v28h-1zM921 552h1v32h-1zM925 547h1v37h-1zM929 546h1v38h-1zM933 546h1v38h-1zM937 547h1v37h-1zM941 547h1v37h-1zM945 549h1v35h-1zM949 551h1v33h-1zM953 551h1v33h-1zM957 552h1v32h-1zM961 552h1v32h-1zM965 550h1v34h-1zM969 550h1v34h-1zM973 551h1v33h-1zM977 555h1v29h-1zM981 559h1v25h-1zM985 563h1v21h-1zM989 565h1v19h-1zM993 569h1v15h-1zM997 566h1v18h-1zM1001 563h1v21h-1zM1005 560h1v24h-1zM1009 558h1v26h-1zM1013 557h1v27h-1zM1017 556h1v28h-1zM1021 556h1v28h-1zM1025 555h1v29h-1zM1029 553h1v31h-1zM1033 549h1v35h-1zM1037 546h1v38h-1zM1041 543h1v41h-1zM1045 544h1v40h-1zM1049 544h1v40h-1zM1053 545h1v39h-1zM1057 547h1v37h-1zM1061 548h1v36h-1zM1065 550h1v34h-1zM1069 552h1v32h-1zM1073 554h1v30h-1zM1077 556h1v28h-1zM1081 558h1v26h-1zM1085 559h1v25h-1zM1089 560h1v24h-1zM1093 559h1v25h-1zM1097 558h1v26h-1zM1101 558h1v26h-1zM1105 561h1v23h-1zM1109 559h1v25h-1zM1113 554h1v30h-1zM1117 547h1v37h-1zM1121 542h1v42h-1zM1125 539h1v45h-1zM1129 539h1v45h-1zM1133 540h1v44h-1zM1137 543h1v41h-1zM1141 545h1v39h-1zM1145 547h1v37h-1zM1149 548h1v36h-1zM1153 547h1v37h-1zM1157 546h1v38h-1zM1161 544h1v40h-1zM1165 546h1v38h-1zM1169 550h1v34h-1zM1173 554h1v30h-1zM1177 557h1v27h-1zM1181 560h1v24h-1zM1185 578h1v6h-1zM1189 583h1v13h-1zM1193 583h1v25h-1zM1197 583h1v34h-1zM1201 583h1v42h-1zM1205 583h1v41h-1zM1209 583h1v40h-1zM1213 583h1v44h-1zM1217 583h1v45h-1zM1221 583h1v47h-1zM1225 583h1v49h-1zM1229 583h1v51h-1zM1233 583h1v60h-1zM1237 583h1v65h-1zM1241 583h1v69h-1zM1245 583h1v70h-1zM1249 583h1v76h-1zM1253 583h1v72h-1zM1257 583h1v65h-1zM1261 583h1v57h-1zM1265 583h1v50h-1zM1269 583h1v45h-1zM1273 583h1v37h-1zM1277 583h1v28h-1zM1281 583h1v12h-1zM1285 581h1v3h-1zM1289 574h1v10h-1zM1293 569h1v15h-1zM1297 574h1v10h-1zM1301 578h1v6h-1zM1305 583h1v4h-1zM1309 583h1v7h-1zM1313 583h1v6h-1zM1317 583h1v7h-1zM1321 583h1v13h-1zM1325 583h1v26h-1zM1329 583h1v35h-1zM1333 583h1v43h-1zM1337 583h1v51h-1zM1341 583h1v55h-1zM1345 583h1v55h-1zM1349 583h1v51h-1zM1353 583h1v39h-1zM1357 583h1v28h-1zM1361 583h1v17h-1zM1365 583h1v1h-1zM1369 574h1v10h-1zM1373 577h1v7h-1zM1377 583h1v2h-1zM1381 583h1v5h-1zM1385 583h1v16h-1zM1389 583h1v27h-1z" fill="#c0c0c0"/>
<path d="M319 508h1v1h-1zM313 509h3v1h-3zM320 509h2v1h-2zM308 510h2v1h-2zM325 510h3v1h-3zM301 511h3v1h-3zM307 511h1v1h-1zM297 512h1v1h-1zM331 512h1v1h-1zM295 513h2v1h-2zM332 513h1v1h-1zM333 514h1v1h-1zM291 515h1v1h-1zM289 516h2v1h-2zM285 518h1v1h-1zM336 518h1v1h-1zM284 519h1v1h-1zM337 519h1v2h-1zM283 520h1v1h-1zM279 522h1v1h-1zM277 523h2v1h-2zM339 524h1v1h-1zM340 525h1v2h-1zM273 526h1v1h-1zM199 527h3v1h-3zM272 527h1v1h-1zM188 528h2v1h-2zM193 528h3v1h-3zM205 528h3v1h-3zM271 528h1v1h-1zM187 529h1v1h-1zM211 529h1v1h-1zM181 530h3v1h-3zM212 530h2v1h-2zM342 530h1v2h-1zM176 531h2v1h-2zM217 531h2v1h-2zM266 531h2v1h-2zM175 532h1v1h-1zM219 532h1v1h-1zM265 532h1v1h-1zM343 532h1v1h-1zM169 533h3v1h-3zM163 534h3v1h-3zM223 534h2v1h-2zM159 535h1v1h-1zM225 535h1v1h-1zM261 535h1v1h-1zM157 536h2v1h-2zM259 536h2v1h-2zM344 536h1v1h-1zM1 537h3v1h-3zM7 537h1v1h-1zM229 537h2v1h-2zM345 537h1v2h-1zM8 538h2v1h-2zM13 538h3v1h-3zM153 538h1v1h-1zM231 538h1v1h-1zM255 538h1v1h-1zM19 539h3v1h-3zM151 539h2v1h-2zM235 539h1v1h-1zM253 539h2v1h-2zM25 540h3v1h-3zM236 540h2v1h-2zM241 540h3v1h-3zM247 540h3v1h-3zM31 541h1v1h-1zM32 542h2v1h-2zM146 542h2v1h-2zM346 542h1v1h-1zM37 543h3v1h-3zM145 543h1v1h-1zM347 543h1v2h-1zM1148 543h2v1h-2zM1153 543h3v1h-3zM43 544h1v1h-1zM1147 544h1v1h-1zM1159 544h3v1h-3zM44 545h2v1h-2zM1141 545h3v1h-3zM1165 545h3v1h-3zM49 546h3v1h-3zM1064 546h2v1h-2zM55 547h1v1h-1zM141 547h1v1h-1zM1057 547h3v1h-3zM1063 547h1v1h-1zM1069 547h3v1h-3zM1137 547h1v1h-1zM1171 547h2v1h-2zM56 548h2v1h-2zM140 548h1v1h-1zM348 548h1v1h-1zM1052 548h2v1h-2zM1075 548h2v1h-2zM1135 548h2v1h-2zM1173 548h1v1h-1zM139 549h1v1h-1zM349 549h1v2h-1zM949 549h3v1h-3zM955 549h3v1h-3zM961 549h3v1h-3zM967 549h1v1h-1zM1051 549h1v1h-1zM1077 549h1v1h-1zM1177 549h3v1h-3zM61 550h2v1h-2zM944 550h2v1h-2zM968 550h2v1h-2zM973 550h3v1h-3zM1047 550h1v1h-1zM1131 550h1v1h-1zM63 551h1v1h-1zM943 551h1v1h-1zM979 551h1v1h-1zM1045 551h2v1h-2zM1081 551h3v1h-3zM1129 551h2v1h-2zM135 552h1v1h-1zM790 552h3v1h-3zM937 552h3v1h-3zM980 552h2v1h-2zM1041 552h1v1h-1zM1183 552h1v1h-1zM67 553h2v1h-2zM134 553h1v1h-1zM796 553h3v1h-3zM933 553h1v1h-1zM1039 553h2v1h-2zM1087 553h2v1h-2zM1125 553h1v1h-1zM1184 553h1v1h-1zM69 554h1v1h-1zM133 554h1v1h-1zM350 554h1v2h-1zM785 554h2v1h-2zM931 554h2v1h-2zM985 554h3v1h-3zM1089 554h1v1h-1zM1123 554h2v1h-2zM1185 554h1v1h-1zM784 555h1v1h-1zM1035 555h1v1h-1zM1093 555h3v1h-3zM73 556h2v1h-2zM351 556h1v1h-1zM802 556h1v1h-1zM927 556h1v1h-1zM991 556h2v1h-2zM1033 556h2v1h-2zM1099 556h1v1h-1zM1119 556h1v1h-1zM75 557h1v1h-1zM708 557h1v1h-1zM712 557h3v1h-3zM718 557h3v1h-3zM780 557h1v1h-1zM803 557h1v1h-1zM925 557h2v1h-2zM993 557h1v1h-1zM1100 557h2v1h-2zM1117 557h2v1h-2zM129 558h1v1h-1zM706 558h2v1h-2zM724 558h1v1h-1zM778 558h2v1h-2zM804 558h1v1h-1zM1029 558h1v1h-1zM1105 558h3v1h-3zM1112 558h2v1h-2zM1188 558h1v1h-1zM79 559h2v1h-2zM128 559h1v1h-1zM701 559h2v1h-2zM725 559h2v1h-2zM921 559h1v1h-1zM997 559h3v1h-3zM1027 559h2v1h-2zM1111 559h1v1h-1zM1189 559h1v1h-1zM81 560h1v1h-1zM127 560h1v1h-1zM352 560h1v3h-1zM700 560h1v1h-1zM919 560h2v1h-2zM1003 560h1v1h-1zM1190 560h1v1h-1zM730 561h2v1h-2zM774 561h1v1h-1zM1004 561h2v1h-2zM1021 561h3v1h-3zM85 562h2v1h-2zM696 562h1v1h-1zM732 562h1v1h-1zM773 562h1v1h-1zM808 562h1v1h-1zM915 562h1v1h-1zM1009 562h3v1h-3zM1015 562h3v1h-3zM87 563h1v1h-1zM122 563h2v1h-2zM694 563h2v1h-2zM772 563h1v1h-1zM809 563h1v1h-1zM913 563h2v1h-2zM91 564h1v1h-1zM121 564h1v1h-1zM736 564h1v1h-1zM810 564h1v1h-1zM1192 564h1v2h-1zM92 565h2v1h-2zM737 565h1v1h-1zM97 566h3v1h-3zM116 566h2v1h-2zM354 566h1v3h-1zM690 566h1v1h-1zM738 566h1v1h-1zM909 566h1v1h-1zM1193 566h1v1h-1zM103 567h3v1h-3zM115 567h1v1h-1zM689 567h1v1h-1zM768 567h1v1h-1zM908 567h1v1h-1zM109 568h3v1h-3zM688 568h1v1h-1zM742 568h1v1h-1zM766 568h2v1h-2zM814 568h1v2h-1zM907 568h1v1h-1zM743 569h2v1h-2zM815 570h1v1h-1zM1195 570h1v2h-1zM748 571h3v1h-3zM760 571h3v1h-3zM355 572h1v1h-1zM684 572h1v1h-1zM754 572h3v1h-3zM902 572h2v1h-2zM1196 572h1v1h-1zM356 573h1v2h-1zM683 573h1v1h-1zM901 573h1v1h-1zM682 574h1v1h-1zM818 574h1v1h-1zM819 575h1v2h-1zM1198 576h1v2h-1zM898 577h1v1h-1zM357 578h1v2h-1zM678 578h1v1h-1zM897 578h1v1h-1zM1199 578h1v1h-1zM677 579h1v1h-1zM896 579h1v1h-1zM358 580h1v1h-1zM610 580h3v1h-3zM616 580h3v1h-3zM676 580h1v1h-1zM822 580h1v1h-1zM605 581h2v1h-2zM622 581h1v1h-1zM823 581h1v1h-1zM1313 581h1v1h-1zM1317 581h3v1h-3zM604 582h1v1h-1zM623 582h2v1h-2zM824 582h1v1h-1zM1201 582h1v2h-1zM1312 582h1v1h-1zM893 583h1v1h-1zM1311 583h1v1h-1zM359 584h1v3h-1zM600 584h1v1h-1zM628 584h1v1h-1zM672 584h1v1h-1zM892 584h1v2h-1zM1202 584h1v1h-1zM1323 584h1v1h-1zM598 585h2v1h-2zM629 585h1v1h-1zM671 585h1v1h-1zM1324 585h1v1h-1zM630 586h1v1h-1zM670 586h1v1h-1zM826 586h1v1h-1zM1306 586h2v1h-2zM1325 586h1v1h-1zM827 587h1v1h-1zM1305 587h1v1h-1zM828 588h1v1h-1zM1204 588h1v2h-1zM595 589h1v1h-1zM634 589h2v1h-2zM889 589h1v1h-1zM360 590h1v2h-1zM485 590h3v1h-3zM491 590h1v1h-1zM594 590h1v1h-1zM636 590h1v1h-1zM666 590h1v1h-1zM888 590h1v1h-1zM1205 590h1v1h-1zM1328 590h1v2h-1zM481 591h1v1h-1zM492 591h2v1h-2zM593 591h1v1h-1zM665 591h1v1h-1zM887 591h1v1h-1zM1302 591h1v1h-1zM361 592h1v1h-1zM479 592h2v1h-2zM640 592h3v1h-3zM664 592h1v1h-1zM831 592h1v2h-1zM1301 592h1v1h-1zM1329 592h1v1h-1zM431 593h3v1h-3zM437 593h3v1h-3zM660 593h1v1h-1zM1300 593h1v1h-1zM1385 593h2v1h-2zM425 594h3v1h-3zM443 594h1v1h-1zM497 594h1v1h-1zM646 594h3v1h-3zM658 594h2v1h-2zM832 594h1v1h-1zM1207 594h1v2h-1zM1384 594h1v1h-1zM444 595h2v1h-2zM474 595h2v1h-2zM498 595h1v1h-1zM589 595h1v1h-1zM652 595h3v1h-3zM884 595h1v1h-1zM362 596h1v3h-1zM421 596h1v1h-1zM473 596h1v1h-1zM499 596h1v1h-1zM588 596h1v2h-1zM883 596h1v2h-1zM1208 596h1v1h-1zM1332 596h1v1h-1zM420 597h1v1h-1zM469 597h1v1h-1zM1298 597h1v1h-1zM1333 597h1v1h-1zM1380 597h1v2h-1zM419 598h1v1h-1zM449 598h2v1h-2zM467 598h2v1h-2zM835 598h1v1h-1zM1297 598h1v1h-1zM1334 598h1v1h-1zM451 599h1v1h-1zM836 599h1v1h-1zM1296 599h1v1h-1zM1379 599h1v1h-1zM455 600h1v1h-1zM461 600h3v1h-3zM502 600h1v1h-1zM837 600h1v1h-1zM1210 600h1v2h-1zM456 601h2v1h-2zM503 601h1v1h-1zM585 601h1v1h-1zM879 601h1v1h-1zM364 602h1v3h-1zM415 602h1v2h-1zM504 602h1v1h-1zM584 602h1v1h-1zM878 602h1v1h-1zM1211 602h1v1h-1zM1336 602h1v1h-1zM583 603h1v1h-1zM841 603h1v1h-1zM877 603h1v1h-1zM1294 603h1v2h-1zM1337 603h1v1h-1zM1376 603h1v2h-1zM414 604h1v1h-1zM842 604h1v1h-1zM1338 604h1v1h-1zM843 605h1v1h-1zM1293 605h1v1h-1zM1375 605h1v1h-1zM507 606h1v2h-1zM1213 606h1v1h-1zM580 607h1v1h-1zM873 607h1v1h-1zM1214 607h1v2h-1zM365 608h1v1h-1zM411 608h1v1h-1zM508 608h1v1h-1zM579 608h1v2h-1zM847 608h1v1h-1zM872 608h1v1h-1zM1340 608h1v1h-1zM366 609h1v2h-1zM410 609h1v1h-1zM848 609h1v1h-1zM871 609h1v1h-1zM1291 609h1v2h-1zM1341 609h1v1h-1zM1372 609h1v2h-1zM409 610h1v1h-1zM849 610h1v1h-1zM1342 610h1v1h-1zM867 611h1v1h-1zM1290 611h1v1h-1zM1371 611h1v1h-1zM511 612h1v1h-1zM853 612h3v1h-3zM865 612h2v1h-2zM1216 612h1v1h-1zM512 613h1v1h-1zM575 613h1v1h-1zM859 613h3v1h-3zM1217 613h1v1h-1zM368 614h1v3h-1zM406 614h1v1h-1zM513 614h1v1h-1zM574 614h1v1h-1zM1218 614h1v1h-1zM1345 614h1v1h-1zM405 615h1v1h-1zM573 615h1v1h-1zM1289 615h1v1h-1zM1346 615h1v1h-1zM1368 615h1v2h-1zM404 616h1v1h-1zM1288 616h1v2h-1zM1347 616h1v1h-1zM1367 617h1v1h-1zM516 618h1v2h-1zM1220 618h1v1h-1zM569 619h1v1h-1zM1221 619h1v1h-1zM370 620h1v2h-1zM401 620h1v1h-1zM517 620h1v1h-1zM568 620h1v1h-1zM1222 620h1v1h-1zM1350 620h1v1h-1zM400 621h1v1h-1zM567 621h1v1h-1zM1286 621h1v1h-1zM1351 621h1v1h-1zM1364 621h1v1h-1zM371 622h1v1h-1zM399 622h1v1h-1zM1285 622h1v2h-1zM1352 622h1v1h-1zM1363 622h1v1h-1zM1362 623h1v1h-1zM520 624h1v1h-1zM1226 624h2v1h-2zM1356 624h1v1h-1zM521 625h1v1h-1zM563 625h1v1h-1zM1228 625h1v1h-1zM1357 625h2v1h-2zM372 626h1v1h-1zM396 626h1v1h-1zM522 626h1v1h-1zM562 626h1v1h-1zM373 627h1v2h-1zM395 627h1v1h-1zM561 627h1v1h-1zM1283 627h1v1h-1zM394 628h1v1h-1zM1232 628h1v1h-1zM1282 628h1v2h-1zM1233 629h2v1h-2zM526 630h1v1h-1zM557 630h1v1h-1zM527 631h1v2h-1zM555 631h2v1h-2zM376 632h1v1h-1zM390 632h1v1h-1zM1238 632h2v1h-2zM377 633h1v1h-1zM389 633h1v1h-1zM551 633h1v1h-1zM1240 633h1v1h-1zM1280 633h1v1h-1zM378 634h1v1h-1zM388 634h1v1h-1zM549 634h2v1h-2zM1279 634h1v2h-1zM531 635h1v1h-1zM544 635h2v1h-2zM382 636h3v1h-3zM532 636h1v1h-1zM543 636h1v1h-1zM533 637h1v1h-1zM537 637h3v1h-3zM1244 637h1v1h-1zM1245 638h1v1h-1zM1246 639h1v1h-1zM1276 639h1v1h-1zM1275 640h1v1h-1zM1274 641h1v1h-1zM1250 642h2v1h-2zM1252 643h1v1h-1zM1270 644h1v1h-1zM1256 645h1v1h-1zM1269 645h1v1h-1zM1257 646h2v1h-2zM1268 646h1v1h-1zM1262 647h3v1h-3z" fill="#f00"/>
<line x1="1" x2="1589" y1="696.5" y2="696.5" stroke="#c0c0c0" stroke-dasharray="4 3"/><line x1="1" x2="1589" y1="735.5" y2="735.5" stroke="#c0c0c0" stroke-dasharray="4 3"/><line x1="1" x2="1589" y1="782.5" y2="782.5" stroke="#c0c0c0" stroke-dasharray="4 3"/>
<path d="M265 688h5v1h-5zM263 689h2v1h-2zM269 689h1v1h-1zM261 690h2v1h-2zM270 690h1v2h-1zM260 691h1v1h-1zM259 692h1v1h-1zM271 692h1v3h-1zM277 692h1v2h-1zM312 692h2v1h-2zM129 693h1v2h-1zM241 693h1v1h-1zM258 693h1v1h-1zM276 693h1v2h-1zM309 693h3v1h-3zM313 693h1v1h-1zM128 694h1v1h-1zM239 694h2v1h-2zM242 694h1v2h-1zM257 694h1v1h-1zM278 694h1v3h-1zM308 694h1v1h-1zM314 694h1v3h-1zM126 695h2v1h-2zM130 695h1v2h-1zM237 695h2v1h-2zM256 695h1v1h-1zM272 695h1v2h-1zM275 695h1v1h-1zM307 695h1v1h-1zM121 696h5v1h-5zM236 696h1v1h-1zM243 696h1v1h-1zM255 696h1v2h-1zM274 696h1v2h-1zM306 696h1v1h-1zM1 697h1v1h-1zM120 697h1v2h-1zM131 697h1v2h-1zM235 697h1v2h-1zM244 697h1v2h-1zM249 697h2v1h-2zM273 697h1v2h-1zM279 697h1v3h-1zM305 697h1v1h-1zM315 697h1v4h-1zM2 698h2v1h-2zM165 698h1v1h-1zM181 698h2v1h-2zM247 698h2v1h-2zM251 698h2v1h-2zM254 698h1v1h-1zM304 698h1v1h-1zM4 699h1v1h-1zM119 699h1v2h-1zM132 699h1v2h-1zM164 699h1v1h-1zM166 699h1v2h-1zM179 699h2v1h-2zM183 699h2v1h-2zM234 699h1v1h-1zM245 699h2v1h-2zM253 699h1v1h-1zM302 699h2v1h-2zM5 700h3v1h-3zM162 700h2v1h-2zM177 700h2v1h-2zM185 700h1v1h-1zM233 700h1v1h-1zM280 700h1v3h-1zM300 700h2v1h-2zM8 701h2v1h-2zM118 701h1v2h-1zM133 701h1v2h-1zM161 701h1v1h-1zM167 701h1v2h-1zM175 701h2v1h-2zM186 701h1v1h-1zM232 701h1v2h-1zM293 701h7v1h-7zM316 701h1v3h-1zM1117 701h5v1h-5zM9 702h1v1h-1zM160 702h1v1h-1zM173 702h2v1h-2zM187 702h1v1h-1zM285 702h1v1h-1zM292 702h1v1h-1zM1116 702h1v2h-1zM1122 702h1v1h-1zM10 703h1v3h-1zM25 703h1v1h-1zM117 703h1v2h-1zM134 703h1v2h-1zM158 703h2v1h-2zM168 703h1v2h-1zM172 703h1v1h-1zM188 703h1v1h-1zM192 703h2v1h-2zM231 703h1v2h-1zM281 703h1v2h-1zM283 703h2v1h-2zM286 703h2v1h-2zM291 703h1v1h-1zM1123 703h1v1h-1zM24 704h1v1h-1zM26 704h2v1h-2zM36 704h2v1h-2zM157 704h1v1h-1zM170 704h2v1h-2zM189 704h3v1h-3zM194 704h2v1h-2zM212 704h2v1h-2zM282 704h1v1h-1zM288 704h1v1h-1zM290 704h1v1h-1zM317 704h1v4h-1zM1115 704h1v2h-1zM1124 704h1v1h-1zM23 705h1v1h-1zM28 705h1v1h-1zM32 705h4v1h-4zM37 705h1v1h-1zM116 705h1v1h-1zM135 705h1v3h-1zM156 705h1v1h-1zM169 705h1v1h-1zM196 705h1v1h-1zM200 705h12v1h-12zM213 705h1v1h-1zM230 705h1v2h-1zM289 705h1v1h-1zM925 705h1v2h-1zM1040 705h2v1h-2zM1125 705h1v1h-1zM11 706h1v2h-1zM22 706h1v1h-1zM29 706h3v1h-3zM38 706h1v2h-1zM115 706h1v1h-1zM154 706h2v1h-2zM197 706h3v1h-3zM214 706h1v3h-1zM924 706h1v1h-1zM1033 706h7v1h-7zM1041 706h1v1h-1zM1114 706h1v2h-1zM1126 706h1v2h-1zM20 707h2v1h-2zM114 707h1v1h-1zM149 707h5v1h-5zM229 707h1v1h-1zM922 707h2v1h-2zM926 707h1v2h-1zM1032 707h1v2h-1zM1042 707h1v3h-1zM12 708h1v3h-1zM17 708h3v1h-3zM39 708h1v2h-1zM45 708h1v2h-1zM113 708h1v2h-1zM136 708h1v2h-1zM147 708h2v1h-2zM228 708h1v1h-1zM318 708h1v5h-1zM921 708h1v1h-1zM1113 708h1v1h-1zM1127 708h1v1h-1zM1161 708h1v2h-1zM16 709h1v1h-1zM44 709h1v1h-1zM145 709h2v1h-2zM215 709h1v3h-1zM227 709h1v2h-1zM920 709h1v2h-1zM927 709h1v2h-1zM1031 709h1v2h-1zM1112 709h1v2h-1zM1128 709h1v2h-1zM1159 709h2v1h-2zM15 710h1v1h-1zM40 710h1v2h-1zM43 710h1v1h-1zM46 710h1v3h-1zM112 710h1v3h-1zM137 710h1v2h-1zM144 710h1v1h-1zM965 710h1v1h-1zM1043 710h1v4h-1zM1157 710h2v1h-2zM1162 710h1v3h-1zM13 711h2v1h-2zM42 711h1v1h-1zM138 711h2v1h-2zM142 711h2v1h-2zM226 711h1v1h-1zM919 711h1v2h-1zM928 711h1v2h-1zM964 711h1v1h-1zM966 711h1v2h-1zM1030 711h1v2h-1zM1111 711h1v2h-1zM1129 711h1v1h-1zM1156 711h1v1h-1zM13 712h1v1h-1zM41 712h1v1h-1zM140 712h2v1h-2zM216 712h1v3h-1zM224 712h2v1h-2zM963 712h1v2h-1zM1130 712h1v1h-1zM1155 712h1v1h-1zM47 713h1v2h-1zM111 713h1v3h-1zM221 713h3v1h-3zM319 713h1v6h-1zM896 713h2v1h-2zM918 713h1v2h-1zM929 713h1v2h-1zM967 713h1v1h-1zM1029 713h1v2h-1zM1093 713h3v1h-3zM1110 713h1v2h-1zM1131 713h1v2h-1zM1154 713h1v1h-1zM1163 713h1v2h-1zM220 714h1v1h-1zM893 714h3v1h-3zM897 714h1v1h-1zM930 714h2v1h-2zM962 714h1v1h-1zM968 714h1v2h-1zM1044 714h1v3h-1zM1092 714h1v2h-1zM1096 714h2v1h-2zM1153 714h1v1h-1zM48 715h1v3h-1zM217 715h3v1h-3zM760 715h3v1h-3zM769 715h5v1h-5zM892 715h1v1h-1zM898 715h1v2h-1zM917 715h1v1h-1zM932 715h2v1h-2zM961 715h1v1h-1zM1009 715h1v1h-1zM1027 715h2v1h-2zM1098 715h2v1h-2zM1109 715h1v2h-1zM1132 715h1v1h-1zM1152 715h1v1h-1zM1164 715h1v3h-1zM110 716h1v3h-1zM217 716h1v1h-1zM757 716h3v1h-3zM763 716h2v1h-2zM767 716h2v1h-2zM774 716h1v2h-1zM890 716h2v1h-2zM916 716h1v2h-1zM934 716h1v2h-1zM959 716h2v1h-2zM969 716h1v1h-1zM1007 716h2v1h-2zM1010 716h2v1h-2zM1025 716h2v1h-2zM1049 716h3v1h-3zM1091 716h1v2h-1zM1100 716h1v1h-1zM1133 716h1v1h-1zM1150 716h2v1h-2zM668 717h6v1h-6zM697 717h1v2h-1zM756 717h1v1h-1zM765 717h2v1h-2zM885 717h5v1h-5zM899 717h1v2h-1zM941 717h1v1h-1zM956 717h3v1h-3zM970 717h1v1h-1zM1001 717h6v1h-6zM1012 717h1v1h-1zM1016 717h2v1h-2zM1024 717h1v2h-1zM1045 717h1v2h-1zM1047 717h2v1h-2zM1052 717h6v1h-6zM1101 717h1v2h-1zM1108 717h1v4h-1zM1134 717h1v2h-1zM1149 717h1v1h-1zM49 718h1v2h-1zM57 718h1v1h-1zM89 718h1v2h-1zM665 718h3v1h-3zM673 718h1v1h-1zM696 718h1v1h-1zM755 718h1v1h-1zM775 718h1v2h-1zM883 718h2v1h-2zM915 718h1v1h-1zM935 718h1v1h-1zM940 718h1v1h-1zM942 718h1v1h-1zM953 718h3v1h-3zM971 718h1v1h-1zM1000 718h1v1h-1zM1013 718h3v1h-3zM1018 718h1v1h-1zM1046 718h1v1h-1zM1058 718h2v1h-2zM1090 718h1v2h-1zM1148 718h1v1h-1zM1165 718h1v3h-1zM1281 718h5v1h-5zM1365 718h1v1h-1zM56 719h1v1h-1zM58 719h1v1h-1zM90 719h1v1h-1zM109 719h1v2h-1zM320 719h1v5h-1zM664 719h1v1h-1zM674 719h1v3h-1zM694 719h2v1h-2zM698 719h1v2h-1zM754 719h1v1h-1zM881 719h2v1h-2zM900 719h1v2h-1zM914 719h1v2h-1zM936 719h1v2h-1zM939 719h1v1h-1zM943 719h1v2h-1zM952 719h1v1h-1zM972 719h1v1h-1zM998 719h2v1h-2zM1019 719h1v2h-1zM1023 719h1v1h-1zM1060 719h1v1h-1zM1069 719h2v1h-2zM1102 719h1v3h-1zM1135 719h1v2h-1zM1147 719h1v1h-1zM1281 719h1v1h-1zM1286 719h1v2h-1zM1364 719h1v2h-1zM1366 719h1v1h-1zM50 720h2v1h-2zM55 720h1v1h-1zM59 720h1v2h-1zM88 720h1v2h-1zM91 720h1v2h-1zM108 720h1v1h-1zM662 720h2v1h-2zM693 720h1v1h-1zM753 720h1v1h-1zM776 720h1v2h-1zM879 720h2v1h-2zM938 720h1v1h-1zM951 720h1v1h-1zM973 720h1v2h-1zM997 720h1v3h-1zM1022 720h1v2h-1zM1061 720h3v1h-3zM1067 720h2v1h-2zM1071 720h2v1h-2zM1085 720h3v1h-3zM1089 720h1v2h-1zM1146 720h1v1h-1zM1280 720h1v3h-1zM1367 720h1v2h-1zM52 721h1v1h-1zM54 721h1v1h-1zM104 721h4v1h-4zM661 721h1v1h-1zM692 721h1v2h-1zM699 721h1v2h-1zM752 721h1v2h-1zM877 721h2v1h-2zM901 721h2v1h-2zM912 721h2v1h-2zM937 721h1v1h-1zM944 721h1v1h-1zM950 721h1v1h-1zM1020 721h1v1h-1zM1064 721h3v1h-3zM1073 721h5v1h-5zM1084 721h1v2h-1zM1088 721h1v1h-1zM1107 721h1v4h-1zM1136 721h1v2h-1zM1141 721h5v1h-5zM1166 721h1v3h-1zM1287 721h1v1h-1zM1363 721h1v2h-1zM53 722h1v1h-1zM60 722h1v1h-1zM87 722h1v3h-1zM92 722h1v1h-1zM101 722h3v1h-3zM325 722h3v1h-3zM660 722h1v2h-1zM675 722h1v2h-1zM777 722h3v1h-3zM876 722h1v2h-1zM903 722h2v1h-2zM908 722h4v1h-4zM945 722h5v1h-5zM974 722h1v2h-1zM1021 722h1v1h-1zM1078 722h1v2h-1zM1103 722h1v4h-1zM1139 722h2v1h-2zM1288 722h1v2h-1zM1368 722h1v1h-1zM61 723h1v1h-1zM73 723h1v2h-1zM93 723h2v1h-2zM100 723h1v1h-1zM324 723h1v1h-1zM328 723h2v1h-2zM413 723h1v1h-1zM691 723h1v1h-1zM700 723h1v2h-1zM751 723h1v2h-1zM780 723h2v1h-2zM865 723h1v2h-1zM905 723h3v1h-3zM996 723h1v5h-1zM1083 723h1v2h-1zM1137 723h2v1h-2zM1279 723h1v3h-1zM1362 723h1v2h-1zM1369 723h1v2h-1zM62 724h1v1h-1zM95 724h2v1h-2zM98 724h2v1h-2zM321 724h1v3h-1zM323 724h1v1h-1zM329 724h1v3h-1zM412 724h1v2h-1zM414 724h1v2h-1zM659 724h1v1h-1zM676 724h1v3h-1zM681 724h2v1h-2zM690 724h1v2h-1zM782 724h1v1h-1zM866 724h1v2h-1zM875 724h1v2h-1zM975 724h1v3h-1zM1079 724h1v2h-1zM1167 724h1v3h-1zM1289 724h3v1h-3zM63 725h1v1h-1zM72 725h1v4h-1zM74 725h1v2h-1zM86 725h1v2h-1zM97 725h1v1h-1zM322 725h1v1h-1zM584 725h2v1h-2zM658 725h1v2h-1zM680 725h1v1h-1zM683 725h2v1h-2zM701 725h1v2h-1zM750 725h1v2h-1zM783 725h1v2h-1zM864 725h1v3h-1zM1082 725h1v2h-1zM1106 725h1v4h-1zM1292 725h2v1h-2zM1361 725h1v1h-1zM1370 725h1v4h-1zM64 726h1v1h-1zM411 726h1v2h-1zM415 726h1v2h-1zM581 726h3v1h-3zM586 726h1v1h-1zM679 726h1v1h-1zM685 726h5v1h-5zM702 726h6v1h-6zM867 726h1v2h-1zM874 726h1v2h-1zM1080 726h1v2h-1zM1104 726h1v3h-1zM1278 726h1v3h-1zM1293 726h1v1h-1zM1360 726h1v1h-1zM65 727h1v2h-1zM75 727h1v3h-1zM85 727h1v2h-1zM330 727h1v6h-1zM580 727h1v1h-1zM587 727h1v1h-1zM657 727h1v1h-1zM677 727h2v1h-2zM708 727h2v1h-2zM717 727h1v1h-1zM749 727h1v2h-1zM784 727h1v1h-1zM976 727h1v2h-1zM1081 727h1v2h-1zM1168 727h1v3h-1zM1294 727h1v4h-1zM1359 727h1v1h-1zM410 728h1v2h-1zM416 728h1v2h-1zM457 728h1v1h-1zM579 728h1v1h-1zM588 728h1v1h-1zM656 728h1v2h-1zM677 728h1v1h-1zM710 728h1v1h-1zM716 728h1v1h-1zM718 728h2v1h-2zM748 728h1v1h-1zM785 728h5v1h-5zM863 728h1v4h-1zM868 728h1v2h-1zM873 728h1v1h-1zM995 728h1v5h-1zM1358 728h1v1h-1zM66 729h1v2h-1zM71 729h1v3h-1zM84 729h1v2h-1zM455 729h2v1h-2zM458 729h1v1h-1zM578 729h1v1h-1zM589 729h1v1h-1zM711 729h1v1h-1zM715 729h1v1h-1zM720 729h1v1h-1zM745 729h3v1h-3zM789 729h1v1h-1zM871 729h2v1h-2zM977 729h1v2h-1zM1105 729h1v2h-1zM1277 729h1v2h-1zM1356 729h2v1h-2zM1371 729h1v4h-1zM76 730h1v2h-1zM409 730h1v2h-1zM417 730h1v2h-1zM453 730h2v1h-2zM459 730h1v2h-1zM576 730h2v1h-2zM590 730h1v2h-1zM655 730h1v2h-1zM712 730h1v1h-1zM714 730h1v1h-1zM721 730h1v3h-1zM744 730h1v2h-1zM790 730h1v3h-1zM869 730h2v1h-2zM1169 730h1v2h-1zM1177 730h3v1h-3zM1353 730h3v1h-3zM67 731h1v3h-1zM83 731h1v1h-1zM408 731h1v1h-1zM452 731h1v2h-1zM573 731h3v1h-3zM713 731h1v1h-1zM978 731h2v1h-2zM989 731h1v2h-1zM1170 731h2v1h-2zM1175 731h2v1h-2zM1180 731h2v1h-2zM1276 731h1v1h-1zM1295 731h1v4h-1zM1353 731h1v1h-1zM70 732h1v4h-1zM77 732h1v2h-1zM82 732h1v2h-1zM405 732h3v1h-3zM418 732h1v2h-1zM460 732h1v1h-1zM572 732h1v1h-1zM591 732h1v1h-1zM654 732h1v2h-1zM743 732h1v1h-1zM862 732h1v3h-1zM980 732h1v1h-1zM988 732h1v1h-1zM1172 732h3v1h-3zM1181 732h1v4h-1zM1274 732h2v1h-2zM1352 732h1v3h-1zM78 733h2v1h-2zM331 733h1v6h-1zM377 733h3v1h-3zM384 733h3v1h-3zM404 733h1v1h-1zM451 733h1v2h-1zM461 733h1v1h-1zM571 733h1v1h-1zM592 733h1v2h-1zM597 733h2v1h-2zM722 733h1v4h-1zM742 733h1v2h-1zM791 733h1v2h-1zM981 733h1v1h-1zM987 733h1v2h-1zM990 733h1v2h-1zM994 733h1v5h-1zM1273 733h1v1h-1zM1372 733h1v4h-1zM68 734h1v2h-1zM80 734h2v1h-2zM376 734h1v2h-1zM380 734h4v1h-4zM387 734h2v1h-2zM403 734h1v2h-1zM419 734h1v2h-1zM462 734h1v1h-1zM565 734h3v1h-3zM570 734h1v1h-1zM595 734h2v1h-2zM599 734h2v1h-2zM645 734h3v1h-3zM653 734h1v2h-1zM982 734h2v1h-2zM1272 734h1v2h-1zM389 735h1v1h-1zM450 735h1v2h-1zM463 735h1v1h-1zM557 735h2v1h-2zM564 735h1v1h-1zM568 735h2v1h-2zM593 735h2v1h-2zM601 735h1v2h-1zM643 735h2v1h-2zM648 735h5v1h-5zM729 735h1v2h-1zM737 735h5v1h-5zM792 735h1v3h-1zM861 735h1v2h-1zM984 735h1v1h-1zM986 735h1v1h-1zM991 735h1v2h-1zM1296 735h1v4h-1zM1351 735h1v4h-1zM69 736h1v2h-1zM375 736h1v2h-1zM390 736h1v1h-1zM402 736h1v1h-1zM420 736h1v2h-1zM464 736h1v1h-1zM556 736h1v2h-1zM559 736h2v1h-2zM562 736h2v1h-2zM641 736h2v1h-2zM730 736h1v2h-1zM736 736h1v2h-1zM985 736h1v1h-1zM1182 736h1v9h-1zM1271 736h1v2h-1zM1313 736h2v1h-2zM391 737h1v1h-1zM401 737h1v1h-1zM449 737h1v1h-1zM465 737h1v1h-1zM473 737h7v1h-7zM537 737h1v1h-1zM561 737h1v1h-1zM602 737h1v3h-1zM641 737h1v1h-1zM723 737h1v4h-1zM728 737h1v3h-1zM860 737h1v1h-1zM992 737h1v2h-1zM1312 737h1v1h-1zM1315 737h2v1h-2zM1373 737h1v2h-1zM374 738h1v2h-1zM392 738h1v1h-1zM400 738h1v2h-1zM421 738h1v2h-1zM448 738h1v1h-1zM466 738h2v1h-2zM472 738h1v1h-1zM480 738h2v1h-2zM536 738h1v2h-1zM538 738h1v1h-1zM555 738h1v2h-1zM613 738h9v1h-9zM640 738h1v4h-1zM731 738h1v2h-1zM735 738h1v2h-1zM793 738h1v2h-1zM858 738h2v1h-2zM993 738h1v3h-1zM1261 738h3v1h-3zM1270 738h1v2h-1zM1311 738h1v2h-1zM1317 738h1v2h-1zM332 739h1v6h-1zM393 739h1v1h-1zM437 739h1v2h-1zM446 739h2v1h-2zM468 739h1v1h-1zM470 739h2v1h-2zM482 739h1v2h-1zM539 739h1v1h-1zM612 739h1v1h-1zM622 739h1v1h-1zM857 739h1v2h-1zM1260 739h1v1h-1zM1264 739h3v1h-3zM1297 739h1v2h-1zM1300 739h2v1h-2zM1350 739h1v3h-1zM1374 739h1v1h-1zM373 740h1v2h-1zM394 740h1v2h-1zM399 740h1v2h-1zM422 740h1v2h-1zM438 740h1v2h-1zM445 740h1v1h-1zM469 740h1v1h-1zM535 740h1v2h-1zM540 740h1v1h-1zM554 740h1v2h-1zM603 740h1v2h-1zM611 740h1v2h-1zM623 740h1v1h-1zM727 740h1v3h-1zM732 740h1v2h-1zM734 740h1v2h-1zM794 740h1v1h-1zM1259 740h1v2h-1zM1267 740h3v1h-3zM1298 740h2v1h-2zM1301 740h1v1h-1zM1310 740h1v1h-1zM1318 740h1v2h-1zM1375 740h1v1h-1zM1381 740h1v2h-1zM436 741h1v2h-1zM444 741h1v2h-1zM483 741h1v1h-1zM489 741h5v1h-5zM541 741h1v1h-1zM624 741h1v1h-1zM724 741h1v4h-1zM795 741h1v2h-1zM856 741h1v2h-1zM1269 741h1v1h-1zM1302 741h1v2h-1zM1309 741h1v1h-1zM1376 741h1v1h-1zM1379 741h2v1h-2zM372 742h1v1h-1zM395 742h1v1h-1zM398 742h1v2h-1zM423 742h1v2h-1zM439 742h1v2h-1zM484 742h1v2h-1zM488 742h1v1h-1zM493 742h1v2h-1zM534 742h1v2h-1zM542 742h2v1h-2zM549 742h3v1h-3zM553 742h1v2h-1zM604 742h1v3h-1zM610 742h1v1h-1zM625 742h2v1h-2zM639 742h1v3h-1zM733 742h1v1h-1zM1258 742h1v1h-1zM1308 742h1v2h-1zM1319 742h1v2h-1zM1349 742h1v2h-1zM1377 742h2v1h-2zM1382 742h1v2h-1zM371 743h1v1h-1zM396 743h1v2h-1zM435 743h1v2h-1zM443 743h1v1h-1zM486 743h2v1h-2zM544 743h1v1h-1zM547 743h2v1h-2zM552 743h1v1h-1zM609 743h1v1h-1zM627 743h2v1h-2zM726 743h1v3h-1zM796 743h1v1h-1zM855 743h1v2h-1zM1257 743h1v1h-1zM1303 743h1v2h-1zM370 744h1v1h-1zM397 744h1v2h-1zM424 744h1v2h-1zM440 744h1v2h-1zM442 744h1v2h-1zM485 744h1v1h-1zM494 744h1v4h-1zM509 744h1v2h-1zM533 744h1v2h-1zM545 744h2v1h-2zM608 744h1v1h-1zM629 744h1v1h-1zM797 744h2v1h-2zM1256 744h1v2h-1zM1307 744h1v1h-1zM1320 744h1v2h-1zM1348 744h1v2h-1zM1383 744h1v2h-1zM333 745h1v3h-1zM369 745h1v1h-1zM434 745h1v2h-1zM510 745h1v2h-1zM521 745h5v1h-5zM605 745h3v1h-3zM630 745h1v2h-1zM638 745h1v4h-1zM725 745h1v3h-1zM799 745h2v1h-2zM854 745h1v2h-1zM1183 745h1v8h-1zM1205 745h2v1h-2zM1304 745h1v2h-1zM1306 745h1v2h-1zM367 746h2v1h-2zM425 746h3v1h-3zM441 746h1v1h-1zM508 746h1v4h-1zM520 746h1v1h-1zM525 746h1v1h-1zM532 746h1v2h-1zM605 746h1v1h-1zM801 746h1v1h-1zM812 746h2v1h-2zM1205 746h1v2h-1zM1207 746h2v1h-2zM1255 746h1v2h-1zM1321 746h1v2h-1zM1347 746h1v1h-1zM1384 746h1v2h-1zM365 747h2v1h-2zM428 747h4v1h-4zM433 747h1v2h-1zM511 747h1v1h-1zM519 747h1v1h-1zM526 747h1v2h-1zM631 747h1v2h-1zM802 747h1v2h-1zM809 747h3v1h-3zM813 747h1v1h-1zM853 747h1v2h-1zM1209 747h1v2h-1zM1305 747h1v1h-1zM1346 747h1v2h-1zM334 748h1v1h-1zM364 748h1v2h-1zM432 748h1v1h-1zM495 748h1v4h-1zM512 748h1v2h-1zM518 748h1v1h-1zM531 748h1v2h-1zM808 748h1v2h-1zM814 748h1v3h-1zM1204 748h1v6h-1zM1254 748h1v2h-1zM1322 748h1v2h-1zM1385 748h1v2h-1zM335 749h1v1h-1zM516 749h2v1h-2zM527 749h1v2h-1zM632 749h1v2h-1zM637 749h1v2h-1zM803 749h1v2h-1zM852 749h1v1h-1zM1210 749h1v2h-1zM1345 749h1v1h-1zM336 750h1v1h-1zM363 750h1v1h-1zM507 750h1v3h-1zM513 750h3v1h-3zM530 750h1v2h-1zM636 750h1v1h-1zM807 750h1v1h-1zM851 750h1v2h-1zM1253 750h1v3h-1zM1323 750h1v3h-1zM1344 750h1v2h-1zM1386 750h2v1h-2zM337 751h1v3h-1zM345 751h1v3h-1zM362 751h1v2h-1zM528 751h1v2h-1zM633 751h3v1h-3zM804 751h1v2h-1zM806 751h1v2h-1zM815 751h1v2h-1zM1211 751h1v2h-1zM1388 751h1v1h-1zM346 752h2v1h-2zM496 752h1v4h-1zM529 752h1v2h-1zM841 752h1v1h-1zM850 752h1v1h-1zM1217 752h2v1h-2zM1343 752h1v1h-1zM1389 752h1v1h-1zM348 753h1v1h-1zM361 753h1v1h-1zM506 753h1v4h-1zM805 753h1v1h-1zM816 753h1v3h-1zM832 753h4v1h-4zM839 753h2v1h-2zM842 753h1v1h-1zM849 753h1v1h-1zM1184 753h1v9h-1zM1212 753h1v2h-1zM1216 753h1v1h-1zM1219 753h2v1h-2zM1252 753h1v4h-1zM1324 753h1v2h-1zM1342 753h1v2h-1zM338 754h1v4h-1zM344 754h1v4h-1zM349 754h1v1h-1zM360 754h1v1h-1zM829 754h3v1h-3zM836 754h3v1h-3zM843 754h1v2h-1zM848 754h1v1h-1zM1203 754h1v6h-1zM1214 754h2v1h-2zM1221 754h2v1h-2zM1329 754h3v1h-3zM350 755h1v2h-1zM358 755h2v1h-2zM828 755h1v1h-1zM847 755h1v1h-1zM1213 755h1v1h-1zM1223 755h2v1h-2zM1325 755h1v2h-1zM1327 755h2v1h-2zM1332 755h3v1h-3zM1341 755h1v1h-1zM357 756h1v1h-1zM497 756h1v2h-1zM817 756h1v2h-1zM820 756h2v1h-2zM827 756h1v2h-1zM844 756h1v1h-1zM846 756h1v1h-1zM1225 756h5v1h-5zM1326 756h1v1h-1zM1335 756h2v1h-2zM1339 756h2v1h-2zM351 757h1v2h-1zM356 757h1v1h-1zM505 757h1v2h-1zM818 757h2v1h-2zM822 757h2v1h-2zM845 757h1v1h-1zM1229 757h1v1h-1zM1251 757h1v4h-1zM1337 757h2v1h-2zM339 758h1v5h-1zM343 758h1v5h-1zM355 758h1v2h-1zM498 758h2v1h-2zM824 758h1v1h-1zM826 758h1v1h-1zM1230 758h1v3h-1zM352 759h1v2h-1zM500 759h1v1h-1zM503 759h2v1h-2zM825 759h1v1h-1zM354 760h1v1h-1zM501 760h2v1h-2zM1202 760h1v6h-1zM1245 760h1v1h-1zM353 761h1v1h-1zM1231 761h1v3h-1zM1243 761h2v1h-2zM1246 761h1v2h-1zM1250 761h1v4h-1zM1185 762h1v5h-1zM1237 762h6v1h-6zM340 763h1v4h-1zM342 763h1v4h-1zM1236 763h1v2h-1zM1247 763h1v2h-1zM1232 764h1v3h-1zM1235 765h1v1h-1zM1248 765h2v1h-2zM1186 766h1v1h-1zM1201 766h1v3h-1zM1234 766h1v2h-1zM1248 766h2v1h-2zM341 767h1v3h-1zM1187 767h2v1h-2zM1192 767h8v1h-8zM1233 767h1v2h-1zM1249 767h1v1h-1zM1189 768h3v1h-3zM1200 768h1v1h-1z" fill="#1e90ff"/>
</svg>

<div class="tp">
 <div class="bl" style="left:4px;top:46px;width:109px;height:64px"></div>
 <div class="bl" style="left:115px;top:46px;width:108px;height:64px"></div>
 <div class="spin"></div>
 <div class="btn" style="left:58px"></div><div class="btn" style="left:148px"></div>
 <div class="inp">1.00</div>
 <svg class="ar" style="left:66px;top:55px" width="5" height="3"><path d="M0 0h5l-2.5 3z" fill="#5068b8"/></svg>
 <svg class="ar" style="left:155px;top:55px" width="5" height="3"><path d="M0 3h5l-2.5-3z" fill="#5068b8"/></svg>
 <div class="ul" style="left:8px;width:44px"></div><div class="ul" style="left:175px;width:44px"></div>
 <div class="sb" style="left:3px;width:52px"><span style="display:inline-block;transform:scaleX(.86)">SELL</span></div><div class="sb" style="left:171px;width:52px"><span style="display:inline-block;transform:scaleX(.94)">BUY</span></div>
 <div class="pr" style="left:20px">24194</div><div class="pr" style="left:130px">24204</div>
 <div class="big" style="left:58px">.5</div><div class="big" style="left:169px">.5</div>
</div>

</body></html>
